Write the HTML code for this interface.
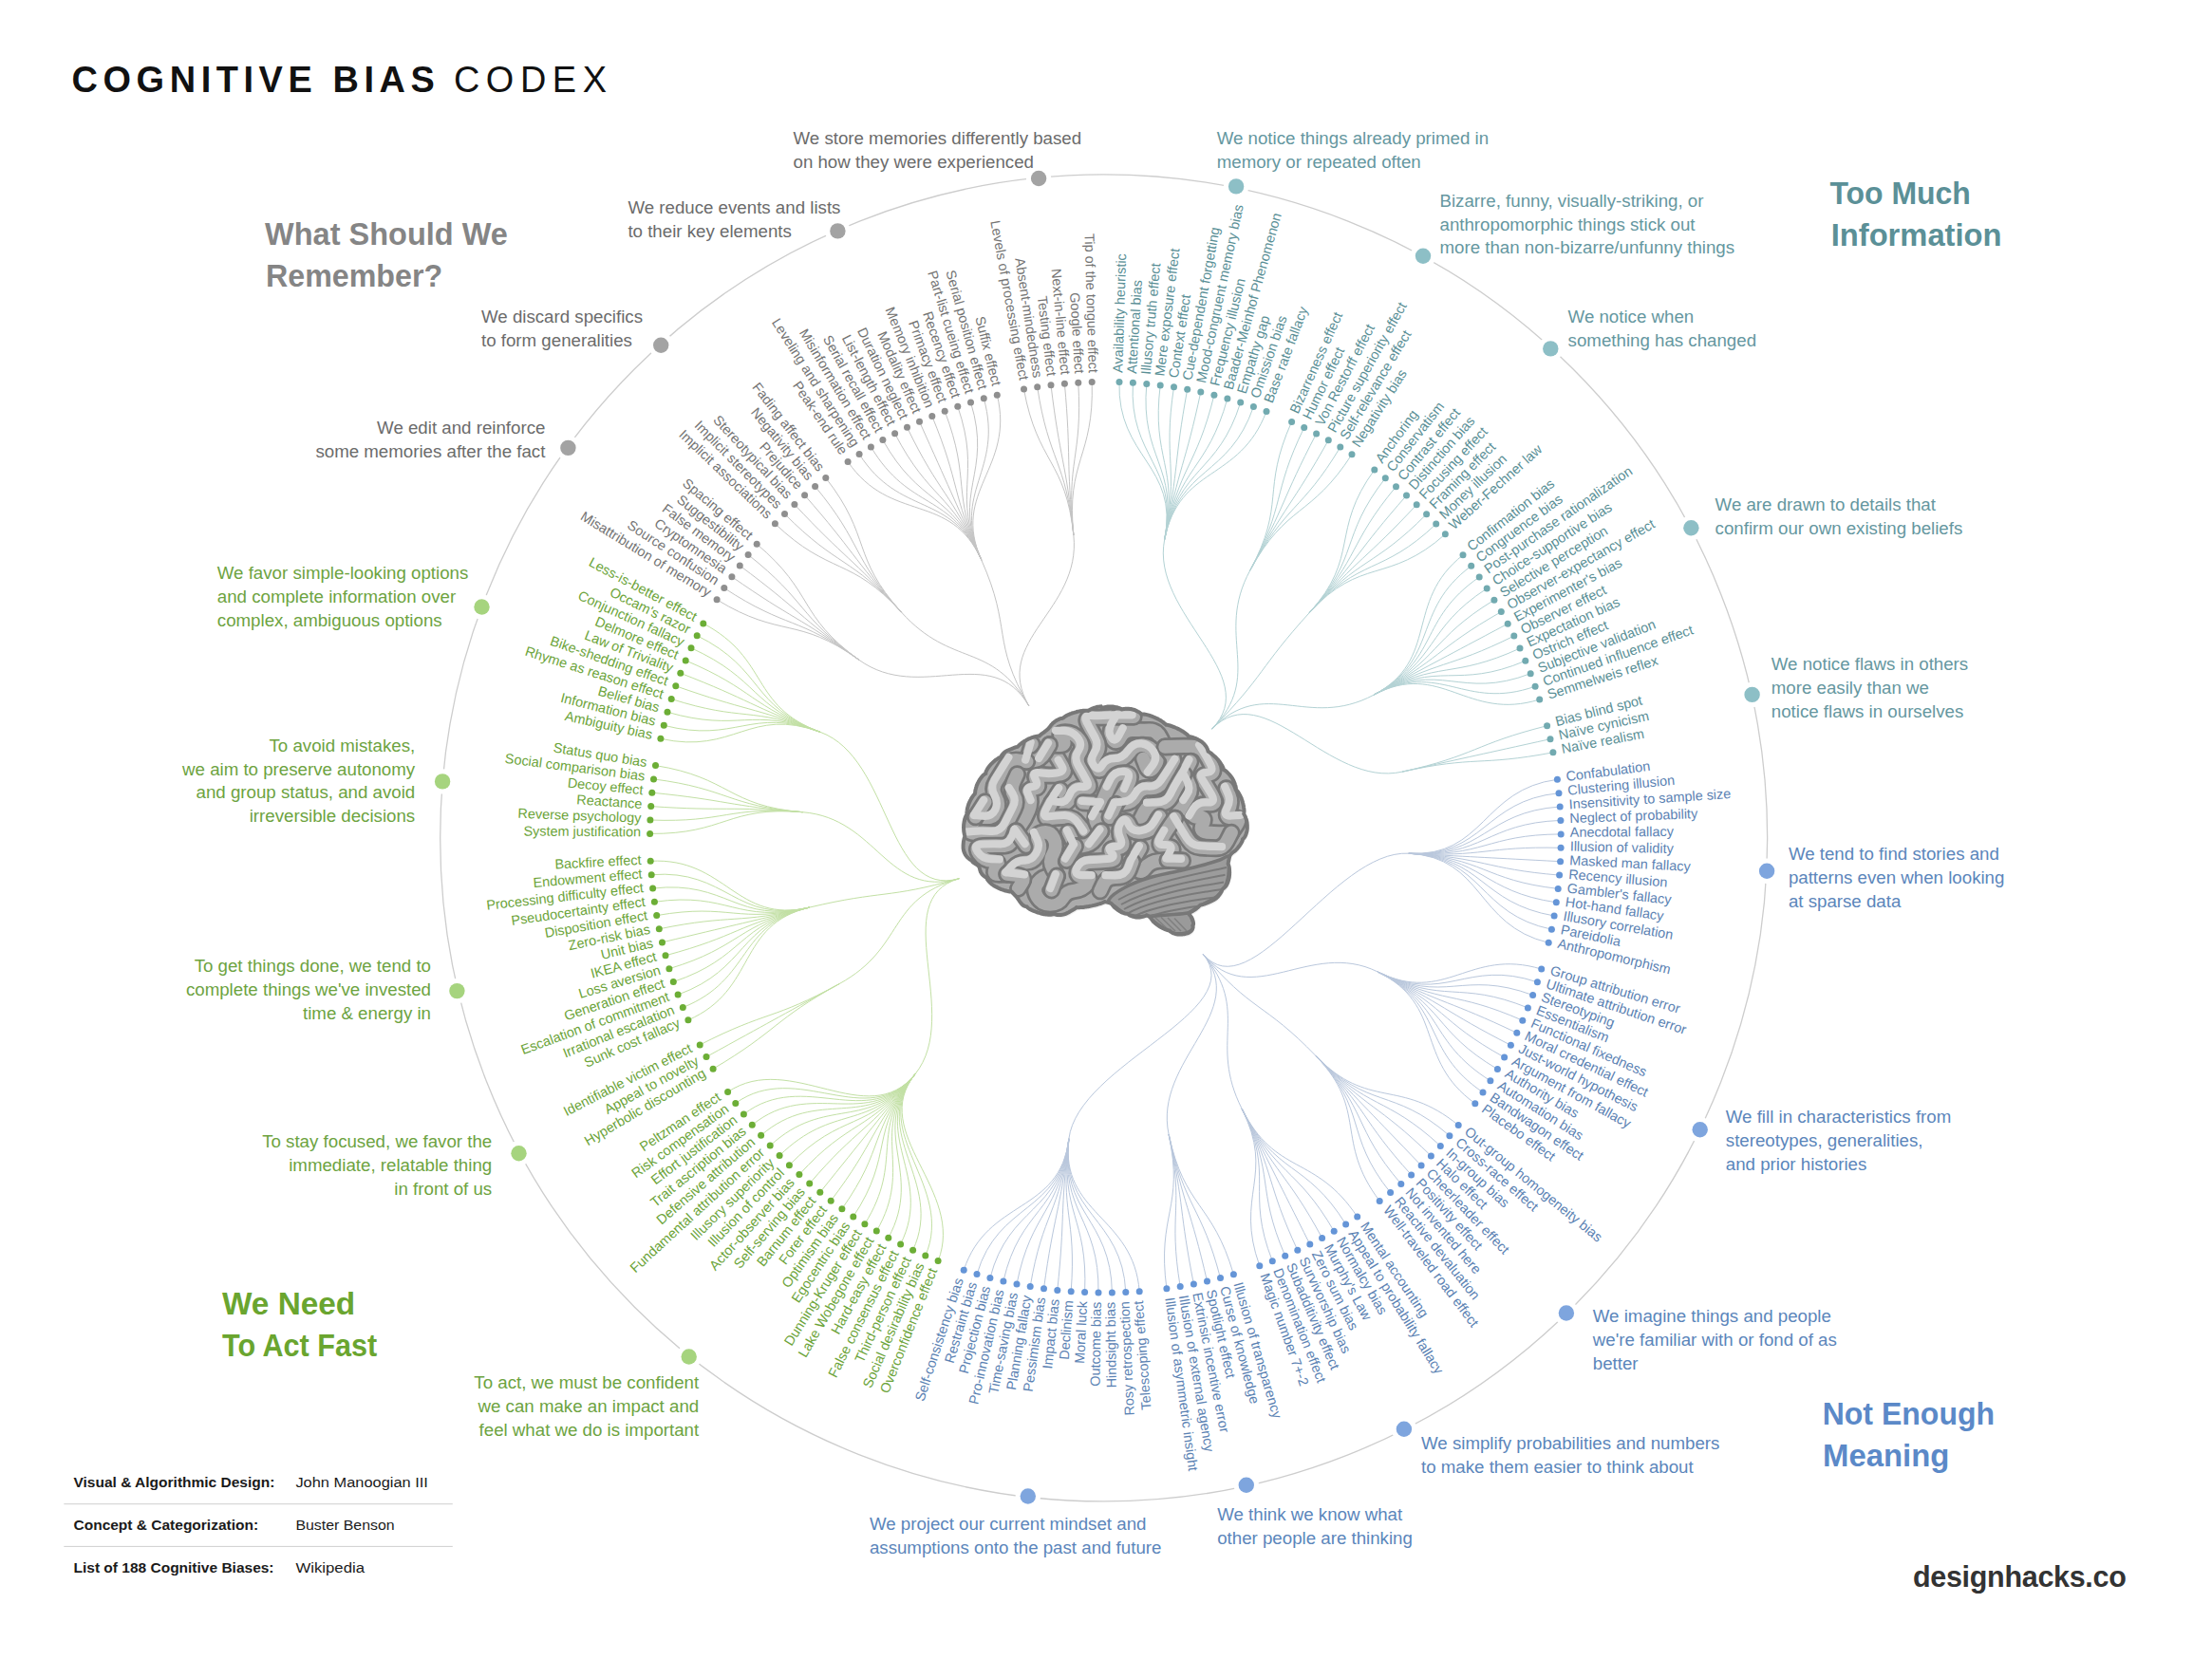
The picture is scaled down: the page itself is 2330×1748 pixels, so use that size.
<!DOCTYPE html><html><head><meta charset="utf-8"><title>Cognitive Bias Codex</title><style>
html,body{margin:0;padding:0;background:#fff;width:2330px;height:1748px;overflow:hidden}svg{display:block}text{font-family:"Liberation Sans",sans-serif}
</style></head><body>
<svg width="2330" height="1748" viewBox="0 0 2330 1748">
<rect width="2330" height="1748" fill="#fff"/>
<circle cx="1162.67" cy="882.95" r="698.98" fill="none" stroke="#cdcdcd" stroke-width="1.3"/>
<path d="M1267.0,1005.0C1318.3,1066.4 1404.1,895.0 1483.9,899.2M1483.9,899.2C1563.8,903.5 1561.1,831.5 1640.4,821.3M1483.9,899.2C1563.8,903.5 1562.4,843.4 1642.0,835.7M1483.9,899.2C1563.8,903.5 1563.4,855.4 1643.2,850.0M1483.9,899.2C1563.8,903.5 1564.1,867.4 1643.9,864.4M1483.9,899.2C1563.8,903.5 1564.3,879.4 1644.2,878.9M1483.9,899.2C1563.8,903.5 1564.2,891.4 1644.1,893.3M1483.9,899.2C1563.8,903.5 1563.8,903.5 1643.6,907.7M1483.9,899.2C1563.8,903.5 1562.9,915.5 1642.6,922.1M1483.9,899.2C1563.8,903.5 1561.8,927.4 1641.2,936.4M1483.9,899.2C1563.8,903.5 1560.2,939.3 1639.3,950.8M1483.9,899.2C1563.8,903.5 1558.3,951.2 1637.1,965.0M1483.9,899.2C1563.8,903.5 1556.1,963.0 1634.4,979.2M1483.9,899.2C1563.8,903.5 1553.5,974.8 1631.2,993.3M1267.0,1005.0C1318.3,1066.4 1379.6,988.6 1451.3,1024.0M1451.3,1024.0C1523.0,1059.4 1547.2,998.0 1623.7,1021.1M1451.3,1024.0C1523.0,1059.4 1543.6,1009.4 1619.4,1034.8M1451.3,1024.0C1523.0,1059.4 1539.6,1020.8 1614.6,1048.5M1451.3,1024.0C1523.0,1059.4 1535.2,1032.0 1609.4,1061.9M1451.3,1024.0C1523.0,1059.4 1530.6,1043.1 1603.8,1075.2M1451.3,1024.0C1523.0,1059.4 1525.6,1054.0 1597.8,1088.3M1451.3,1024.0C1523.0,1059.4 1520.3,1064.8 1591.4,1101.3M1451.3,1024.0C1523.0,1059.4 1514.6,1075.4 1584.6,1114.0M1451.3,1024.0C1523.0,1059.4 1508.6,1085.8 1577.4,1126.5M1451.3,1024.0C1523.0,1059.4 1502.4,1096.1 1569.9,1138.8M1451.3,1024.0C1523.0,1059.4 1495.8,1106.2 1562.0,1150.9M1451.3,1024.0C1523.0,1059.4 1488.9,1116.0 1553.8,1162.7M1267.0,1005.0C1318.3,1066.4 1330.8,1055.2 1386.3,1112.8M1386.3,1112.8C1441.7,1170.4 1474.3,1135.1 1536.2,1185.6M1386.3,1112.8C1441.7,1170.4 1466.5,1144.3 1526.9,1196.7M1386.3,1112.8C1441.7,1170.4 1458.5,1153.3 1517.3,1207.4M1386.3,1112.8C1441.7,1170.4 1450.2,1162.0 1507.4,1217.9M1386.3,1112.8C1441.7,1170.4 1441.7,1170.4 1497.1,1228.0M1386.3,1112.8C1441.7,1170.4 1432.9,1178.6 1486.6,1237.9M1386.3,1112.8C1441.7,1170.4 1423.9,1186.6 1475.8,1247.4M1386.3,1112.8C1441.7,1170.4 1414.6,1194.2 1464.6,1256.6M1386.3,1112.8C1441.7,1170.4 1405.1,1201.6 1453.2,1265.4M1267.0,1005.0C1318.3,1066.4 1272.1,1096.7 1308.1,1168.2M1308.1,1168.2C1343.9,1239.6 1385.5,1215.5 1429.7,1282.1M1308.1,1168.2C1343.9,1239.6 1375.4,1222.0 1417.6,1289.9M1308.1,1168.2C1343.9,1239.6 1365.1,1228.2 1405.2,1297.3M1308.1,1168.2C1343.9,1239.6 1354.6,1234.1 1392.6,1304.4M1308.1,1168.2C1343.9,1239.6 1343.9,1239.6 1379.8,1311.1M1308.1,1168.2C1343.9,1239.6 1333.1,1244.9 1366.8,1317.3M1308.1,1168.2C1343.9,1239.6 1322.1,1249.8 1353.7,1323.2M1308.1,1168.2C1343.9,1239.6 1311.0,1254.3 1340.3,1328.7M1308.1,1168.2C1343.9,1239.6 1299.8,1258.6 1326.8,1333.8M1267.0,1005.0C1318.3,1066.4 1214.4,1117.0 1231.1,1195.2M1231.1,1195.2C1247.8,1273.4 1276.9,1266.0 1299.4,1342.7M1231.1,1195.2C1247.8,1273.4 1265.3,1269.2 1285.5,1346.6M1231.1,1195.2C1247.8,1273.4 1253.6,1272.1 1271.5,1350.0M1231.1,1195.2C1247.8,1273.4 1241.9,1274.6 1257.4,1353.0M1231.1,1195.2C1247.8,1273.4 1230.1,1276.8 1243.2,1355.6M1231.1,1195.2C1247.8,1273.4 1218.2,1278.6 1228.9,1357.8M1267.0,1005.0C1318.3,1066.4 1135.5,1120.5 1125.9,1199.9M1125.9,1199.9C1116.3,1279.3 1194.3,1281.1 1200.2,1360.8M1125.9,1199.9C1116.3,1279.3 1182.3,1281.8 1185.8,1361.6M1125.9,1199.9C1116.3,1279.3 1170.2,1282.1 1171.4,1362.1M1125.9,1199.9C1116.3,1279.3 1158.2,1282.1 1157.0,1362.1M1125.9,1199.9C1116.3,1279.3 1146.2,1281.8 1142.6,1361.6M1125.9,1199.9C1116.3,1279.3 1134.2,1281.0 1128.2,1360.7M1125.9,1199.9C1116.3,1279.3 1122.2,1280.0 1113.8,1359.4M1125.9,1199.9C1116.3,1279.3 1110.3,1278.5 1099.5,1357.7M1125.9,1199.9C1116.3,1279.3 1098.4,1276.7 1085.2,1355.5M1125.9,1199.9C1116.3,1279.3 1086.6,1274.5 1071.0,1352.9M1125.9,1199.9C1116.3,1279.3 1074.8,1272.0 1056.9,1349.9M1125.9,1199.9C1116.3,1279.3 1063.1,1269.2 1042.9,1346.5M1125.9,1199.9C1116.3,1279.3 1051.6,1265.9 1029.0,1342.6M1125.9,1199.9C1116.3,1279.3 1040.1,1262.4 1015.2,1338.3" fill="none" stroke="#b9c7dc" stroke-width="1"/>
<path d="M1010.4,925.7C933.4,947.4 1014.1,1069.4 964.0,1131.7M964.0,1131.7C913.9,1194.0 1017.5,1254.2 988.1,1328.6M964.0,1131.7C913.9,1194.0 1006.3,1249.6 974.8,1323.1M964.0,1131.7C913.9,1194.0 995.4,1244.7 961.6,1317.2M964.0,1131.7C913.9,1194.0 984.6,1239.5 948.6,1310.9M964.0,1131.7C913.9,1194.0 973.9,1233.9 935.8,1304.2M964.0,1131.7C913.9,1194.0 963.4,1228.0 923.3,1297.1M964.0,1131.7C913.9,1194.0 953.1,1221.8 910.9,1289.7M964.0,1131.7C913.9,1194.0 943.0,1215.3 898.8,1281.9M964.0,1131.7C913.9,1194.0 933.1,1208.5 886.9,1273.7M964.0,1131.7C913.9,1194.0 923.4,1201.4 875.2,1265.2M964.0,1131.7C913.9,1194.0 913.9,1194.0 863.8,1256.3M964.0,1131.7C913.9,1194.0 904.7,1186.4 852.7,1247.1M964.0,1131.7C913.9,1194.0 895.6,1178.4 841.9,1237.6M964.0,1131.7C913.9,1194.0 886.8,1170.2 831.4,1227.7M964.0,1131.7C913.9,1194.0 878.3,1161.7 821.1,1217.6M964.0,1131.7C913.9,1194.0 870.0,1153.0 811.2,1207.1M964.0,1131.7C913.9,1194.0 862.0,1144.0 801.6,1196.3M964.0,1131.7C913.9,1194.0 854.3,1134.8 792.3,1185.3M964.0,1131.7C913.9,1194.0 846.9,1125.4 783.4,1174.0M964.0,1131.7C913.9,1194.0 839.7,1115.7 774.8,1162.4M964.0,1131.7C913.9,1194.0 832.8,1105.9 766.6,1150.6M1010.4,925.7C933.4,947.4 954.1,998.0 884.1,1036.6M884.1,1036.6C814.0,1075.1 820.0,1085.5 751.1,1126.2M884.1,1036.6C814.0,1075.1 814.0,1075.1 744.0,1113.6M884.1,1036.6C814.0,1075.1 808.4,1064.5 737.2,1100.9M1010.4,925.7C933.4,947.4 930.9,937.6 853.0,956.0M853.0,956.0C775.2,974.4 798.1,1042.8 724.9,1074.8M853.0,956.0C775.2,974.4 793.4,1031.7 719.3,1061.5M853.0,956.0C775.2,974.4 789.1,1020.5 714.1,1048.1M853.0,956.0C775.2,974.4 785.1,1009.1 709.3,1034.5M853.0,956.0C775.2,974.4 781.5,997.6 704.9,1020.7M853.0,956.0C775.2,974.4 778.2,986.1 701.0,1006.8M853.0,956.0C775.2,974.4 775.2,974.4 697.5,992.9M853.0,956.0C775.2,974.4 772.6,962.7 694.3,978.8M853.0,956.0C775.2,974.4 770.4,950.9 691.7,964.6M853.0,956.0C775.2,974.4 768.5,939.0 689.4,950.3M853.0,956.0C775.2,974.4 767.0,927.1 687.6,936.0M853.0,956.0C775.2,974.4 765.8,915.1 686.2,921.7M853.0,956.0C775.2,974.4 765.0,903.1 685.2,907.3M1010.4,925.7C933.4,947.4 925.2,862.3 845.5,855.7M845.5,855.7C765.9,849.1 764.5,879.1 684.6,878.4M845.5,855.7C765.9,849.1 764.8,867.1 684.9,864.0M845.5,855.7C765.9,849.1 765.4,855.1 685.7,849.6M845.5,855.7C765.9,849.1 766.4,843.1 686.8,835.2M845.5,855.7C765.9,849.1 767.8,831.1 688.5,820.9M845.5,855.7C765.9,849.1 769.5,819.2 690.5,806.6M1010.4,925.7C933.4,947.4 939.3,799.1 864.2,771.4M864.2,771.4C789.2,743.7 774.0,795.6 695.9,778.3M864.2,771.4C789.2,743.7 776.7,783.9 699.3,764.3M864.2,771.4C789.2,743.7 779.9,772.3 703.0,750.3M864.2,771.4C789.2,743.7 783.4,760.8 707.2,736.5M864.2,771.4C789.2,743.7 787.2,749.4 711.8,722.8M864.2,771.4C789.2,743.7 791.3,738.1 716.8,709.3M864.2,771.4C789.2,743.7 795.8,727.0 722.2,695.9M864.2,771.4C789.2,743.7 800.7,716.0 728.0,682.7M864.2,771.4C789.2,743.7 805.8,705.1 734.2,669.7M864.2,771.4C789.2,743.7 811.3,694.4 740.8,656.9" fill="none" stroke="#c2e0a4" stroke-width="1"/>
<path d="M1083.9,744.0C1043.7,674.8 969.7,742.0 904.7,695.2M904.7,695.2C839.9,648.5 823.3,673.5 755.1,631.8M904.7,695.2C839.9,648.5 829.7,663.4 762.8,619.6M904.7,695.2C839.9,648.5 836.4,653.4 770.9,607.7M904.7,695.2C839.9,648.5 843.4,643.7 779.3,596.0M904.7,695.2C839.9,648.5 850.8,634.1 788.1,584.5M904.7,695.2C839.9,648.5 858.4,624.8 797.2,573.3M1083.9,744.0C1043.7,674.8 1003.3,704.4 949.5,645.1M949.5,645.1C895.9,585.9 874.4,606.9 816.4,551.8M949.5,645.1C895.9,585.9 882.8,598.3 826.5,541.5M949.5,645.1C895.9,585.9 891.5,589.9 836.9,531.5M949.5,645.1C895.9,585.9 900.4,581.9 847.6,521.8M949.5,645.1C895.9,585.9 909.5,574.1 858.6,512.5M949.5,645.1C895.9,585.9 918.9,566.6 869.8,503.5M1083.9,744.0C1043.7,674.8 1066.4,663.2 1033.8,590.1M1033.8,590.1C1001.2,517.2 938.3,552.4 893.1,486.4M1033.8,590.1C1001.2,517.2 948.3,545.7 905.1,478.5M1033.8,590.1C1001.2,517.2 958.5,539.4 917.4,470.9M1033.8,590.1C1001.2,517.2 968.9,533.3 929.9,463.6M1033.8,590.1C1001.2,517.2 979.5,527.6 942.6,456.8M1033.8,590.1C1001.2,517.2 990.3,522.2 955.5,450.3M1033.8,590.1C1001.2,517.2 1001.2,517.2 968.5,444.2M1033.8,590.1C1001.2,517.2 1012.2,512.4 981.8,438.5M1033.8,590.1C1001.2,517.2 1023.4,508.0 995.2,433.2M1033.8,590.1C1001.2,517.2 1034.7,503.9 1008.8,428.3M1033.8,590.1C1001.2,517.2 1046.1,500.2 1022.5,423.9M1033.8,590.1C1001.2,517.2 1057.7,496.8 1036.3,419.8M1033.8,590.1C1001.2,517.2 1069.3,493.8 1050.3,416.2M1083.9,744.0C1043.7,674.8 1139.3,643.6 1130.9,564.0M1130.9,564.0C1122.6,484.5 1092.8,488.8 1078.5,410.1M1130.9,564.0C1122.6,484.5 1104.7,486.8 1092.7,407.8M1130.9,564.0C1122.6,484.5 1116.6,485.2 1107.0,405.8M1130.9,564.0C1122.6,484.5 1128.6,483.9 1121.4,404.3M1130.9,564.0C1122.6,484.5 1140.5,483.0 1135.8,403.3M1130.9,564.0C1122.6,484.5 1152.6,482.5 1150.2,402.6" fill="none" stroke="#c4c4c4" stroke-width="1"/>
<path d="M1276.5,768.1C1332.6,711.1 1211.1,646.8 1226.7,568.4M1226.7,568.4C1242.2,490.0 1176.6,482.5 1179.0,402.6M1226.7,568.4C1242.2,490.0 1188.6,483.1 1193.4,403.3M1226.7,568.4C1242.2,490.0 1200.6,484.0 1207.8,404.4M1226.7,568.4C1242.2,490.0 1212.5,485.2 1222.2,405.9M1226.7,568.4C1242.2,490.0 1224.5,486.9 1236.5,407.8M1226.7,568.4C1242.2,490.0 1236.3,488.8 1250.7,410.2M1226.7,568.4C1242.2,490.0 1248.1,491.2 1264.8,413.0M1226.7,568.4C1242.2,490.0 1259.8,493.9 1278.9,416.3M1226.7,568.4C1242.2,490.0 1271.5,496.9 1292.9,419.9M1226.7,568.4C1242.2,490.0 1283.0,500.3 1306.7,424.0M1226.7,568.4C1242.2,490.0 1294.4,504.1 1320.4,428.5M1226.7,568.4C1242.2,490.0 1305.7,508.1 1334.0,433.4M1276.5,768.1C1332.6,711.1 1278.7,671.2 1316.8,600.9M1316.8,600.9C1354.9,530.6 1328.0,517.3 1360.6,444.4M1316.8,600.9C1354.9,530.6 1338.9,522.4 1373.7,450.5M1316.8,600.9C1354.9,530.6 1349.6,527.8 1386.6,456.9M1316.8,600.9C1354.9,530.6 1360.2,533.5 1399.3,463.8M1316.8,600.9C1354.9,530.6 1370.6,539.6 1411.8,471.1M1316.8,600.9C1354.9,530.6 1380.8,545.9 1424.0,478.7M1276.5,768.1C1332.6,711.1 1325.7,704.5 1379.5,645.3M1379.5,645.3C1433.2,586.1 1400.6,559.5 1447.8,495.0M1379.5,645.3C1433.2,586.1 1410.2,566.8 1459.3,503.7M1379.5,645.3C1433.2,586.1 1419.5,574.3 1470.5,512.7M1379.5,645.3C1433.2,586.1 1428.7,582.1 1481.5,522.1M1379.5,645.3C1433.2,586.1 1437.6,590.2 1492.2,531.8M1379.5,645.3C1433.2,586.1 1446.3,598.5 1502.6,541.8M1379.5,645.3C1433.2,586.1 1454.7,607.1 1512.7,552.1M1379.5,645.3C1433.2,586.1 1462.8,616.0 1522.4,562.8M1276.5,768.1C1332.6,711.1 1376.4,769.7 1447.0,732.2M1447.0,732.2C1517.6,694.7 1478.3,634.4 1541.0,584.8M1447.0,732.2C1517.6,694.7 1485.6,643.9 1549.7,596.3M1447.0,732.2C1517.6,694.7 1492.6,653.7 1558.2,608.0M1447.0,732.2C1517.6,694.7 1499.3,663.7 1566.2,620.0M1447.0,732.2C1517.6,694.7 1505.7,673.8 1573.9,632.2M1447.0,732.2C1517.6,694.7 1511.8,684.2 1581.3,644.6M1447.0,732.2C1517.6,694.7 1517.6,694.7 1588.2,657.2M1447.0,732.2C1517.6,694.7 1523.1,705.4 1594.8,670.1M1447.0,732.2C1517.6,694.7 1528.3,716.3 1601.0,683.1M1447.0,732.2C1517.6,694.7 1533.1,727.3 1606.8,696.3M1447.0,732.2C1517.6,694.7 1537.6,738.4 1612.2,709.7M1447.0,732.2C1517.6,694.7 1541.7,749.7 1617.1,723.2M1447.0,732.2C1517.6,694.7 1545.5,761.1 1621.7,736.9M1276.5,768.1C1332.6,711.1 1398.7,830.5 1476.9,813.2M1476.9,813.2C1554.9,795.9 1552.1,784.2 1629.6,764.7M1476.9,813.2C1554.9,795.9 1554.9,795.9 1633.0,778.7M1476.9,813.2C1554.9,795.9 1557.3,807.7 1635.9,792.8" fill="none" stroke="#b3d2d4" stroke-width="1"/>
<g fill="#6595d7"><circle cx="1640.4" cy="821.3" r="3.5"/><circle cx="1642.0" cy="835.7" r="3.5"/><circle cx="1643.2" cy="850.0" r="3.5"/><circle cx="1643.9" cy="864.4" r="3.5"/><circle cx="1644.2" cy="878.9" r="3.5"/><circle cx="1644.1" cy="893.3" r="3.5"/><circle cx="1643.6" cy="907.7" r="3.5"/><circle cx="1642.6" cy="922.1" r="3.5"/><circle cx="1641.2" cy="936.4" r="3.5"/><circle cx="1639.3" cy="950.8" r="3.5"/><circle cx="1637.1" cy="965.0" r="3.5"/><circle cx="1634.4" cy="979.2" r="3.5"/><circle cx="1631.2" cy="993.3" r="3.5"/></g>
<g fill="#5b82b3" font-size="14.45"><text transform="translate(1649.9,820.1) rotate(-7.30)" y="3.0">Confabulation</text><text transform="translate(1651.5,834.7) rotate(-5.57)" y="3.0">Clustering illusion</text><text transform="translate(1652.8,849.4) rotate(-3.85)" y="3.0">Insensitivity to sample size</text><text transform="translate(1653.5,864.1) rotate(-2.13)" y="3.0">Neglect of probability</text><text transform="translate(1653.8,878.8) rotate(-0.41)" y="3.0">Anecdotal fallacy</text><text transform="translate(1653.7,893.5) rotate(1.32)" y="3.0">Illusion of validity</text><text transform="translate(1653.2,908.2) rotate(3.04)" y="3.0">Masked man fallacy</text><text transform="translate(1652.2,922.9) rotate(4.76)" y="3.0">Recency illusion</text><text transform="translate(1650.7,937.5) rotate(6.48)" y="3.0">Gambler's fallacy</text><text transform="translate(1648.8,952.1) rotate(8.21)" y="3.0">Hot-hand fallacy</text><text transform="translate(1646.5,966.7) rotate(9.93)" y="3.0">Illusory correlation</text><text transform="translate(1643.8,981.1) rotate(11.65)" y="3.0">Pareidolia</text><text transform="translate(1640.6,995.5) rotate(13.37)" y="3.0">Anthropomorphism</text></g>
<g fill="#6595d7"><circle cx="1623.7" cy="1021.1" r="3.5"/><circle cx="1619.4" cy="1034.8" r="3.5"/><circle cx="1614.6" cy="1048.5" r="3.5"/><circle cx="1609.4" cy="1061.9" r="3.5"/><circle cx="1603.8" cy="1075.2" r="3.5"/><circle cx="1597.8" cy="1088.3" r="3.5"/><circle cx="1591.4" cy="1101.3" r="3.5"/><circle cx="1584.6" cy="1114.0" r="3.5"/><circle cx="1577.4" cy="1126.5" r="3.5"/><circle cx="1569.9" cy="1138.8" r="3.5"/><circle cx="1562.0" cy="1150.9" r="3.5"/><circle cx="1553.8" cy="1162.7" r="3.5"/></g>
<g fill="#5b82b3" font-size="14.45"><text transform="translate(1632.9,1023.9) rotate(16.82)" y="3.0">Group attribution error</text><text transform="translate(1628.5,1037.9) rotate(18.54)" y="3.0">Ultimate attribution error</text><text transform="translate(1623.6,1051.8) rotate(20.26)" y="3.0">Stereotyping</text><text transform="translate(1618.3,1065.5) rotate(21.99)" y="3.0">Essentialism</text><text transform="translate(1612.6,1079.1) rotate(23.71)" y="3.0">Functional fixedness</text><text transform="translate(1606.4,1092.4) rotate(25.43)" y="3.0">Moral credential effect</text><text transform="translate(1599.9,1105.6) rotate(27.15)" y="3.0">Just-world hypothesis</text><text transform="translate(1593.0,1118.6) rotate(28.88)" y="3.0">Argument from fallacy</text><text transform="translate(1585.7,1131.4) rotate(30.60)" y="3.0">Authority bias</text><text transform="translate(1578.0,1144.0) rotate(32.32)" y="3.0">Automation bias</text><text transform="translate(1570.0,1156.3) rotate(34.04)" y="3.0">Bandwagon effect</text><text transform="translate(1561.6,1168.3) rotate(35.77)" y="3.0">Placebo effect</text></g>
<g fill="#6595d7"><circle cx="1536.2" cy="1185.6" r="3.5"/><circle cx="1526.9" cy="1196.7" r="3.5"/><circle cx="1517.3" cy="1207.4" r="3.5"/><circle cx="1507.4" cy="1217.9" r="3.5"/><circle cx="1497.1" cy="1228.0" r="3.5"/><circle cx="1486.6" cy="1237.9" r="3.5"/><circle cx="1475.8" cy="1247.4" r="3.5"/><circle cx="1464.6" cy="1256.6" r="3.5"/><circle cx="1453.2" cy="1265.4" r="3.5"/></g>
<g fill="#5b82b3" font-size="14.45"><text transform="translate(1543.6,1191.7) rotate(39.21)" y="3.0">Out-group homogeneity bias</text><text transform="translate(1534.2,1202.9) rotate(40.93)" y="3.0">Cross-race effect</text><text transform="translate(1524.4,1213.9) rotate(42.66)" y="3.0">In-group bias</text><text transform="translate(1514.2,1224.6) rotate(44.38)" y="3.0">Halo effect</text><text transform="translate(1503.8,1234.9) rotate(46.10)" y="3.0">Cheerleader effect</text><text transform="translate(1493.0,1245.0) rotate(47.82)" y="3.0">Positivity effect</text><text transform="translate(1482.0,1254.7) rotate(49.55)" y="3.0">Not invented here</text><text transform="translate(1470.6,1264.1) rotate(51.27)" y="3.0">Reactive devaluation</text><text transform="translate(1459.0,1273.1) rotate(52.99)" y="3.0">Well-traveled road effect</text></g>
<g fill="#6595d7"><circle cx="1429.7" cy="1282.1" r="3.5"/><circle cx="1417.6" cy="1289.9" r="3.5"/><circle cx="1405.2" cy="1297.3" r="3.5"/><circle cx="1392.6" cy="1304.4" r="3.5"/><circle cx="1379.8" cy="1311.1" r="3.5"/><circle cx="1366.8" cy="1317.3" r="3.5"/><circle cx="1353.7" cy="1323.2" r="3.5"/><circle cx="1340.3" cy="1328.7" r="3.5"/><circle cx="1326.8" cy="1333.8" r="3.5"/></g>
<g fill="#5b82b3" font-size="14.45"><text transform="translate(1435.0,1290.1) rotate(56.44)" y="3.0">Mental accounting</text><text transform="translate(1422.6,1298.1) rotate(58.16)" y="3.0">Appeal to probability fallacy</text><text transform="translate(1410.0,1305.6) rotate(59.88)" y="3.0">Normalcy bias</text><text transform="translate(1397.2,1312.8) rotate(61.60)" y="3.0">Murphy's Law</text><text transform="translate(1384.1,1319.6) rotate(63.33)" y="3.0">Zero sum bias</text><text transform="translate(1370.9,1326.0) rotate(65.05)" y="3.0">Survivorship bias</text><text transform="translate(1357.4,1332.0) rotate(66.77)" y="3.0">Subadditivity effect</text><text transform="translate(1343.8,1337.6) rotate(68.49)" y="3.0">Denomination effect</text><text transform="translate(1330.1,1342.8) rotate(70.22)" y="3.0">Magic number 7+-2</text></g>
<g fill="#6595d7"><circle cx="1299.4" cy="1342.7" r="3.5"/><circle cx="1285.5" cy="1346.6" r="3.5"/><circle cx="1271.5" cy="1350.0" r="3.5"/><circle cx="1257.4" cy="1353.0" r="3.5"/><circle cx="1243.2" cy="1355.6" r="3.5"/><circle cx="1228.9" cy="1357.8" r="3.5"/></g>
<g fill="#5b82b3" font-size="14.45"><text transform="translate(1302.1,1352.0) rotate(73.66)" y="3.0">Illusion of transparency</text><text transform="translate(1287.9,1355.9) rotate(75.38)" y="3.0">Curse of knowledge</text><text transform="translate(1273.6,1359.4) rotate(77.11)" y="3.0">Spotlight effect</text><text transform="translate(1259.2,1362.4) rotate(78.83)" y="3.0">Extrinsic incentive error</text><text transform="translate(1244.8,1365.1) rotate(80.55)" y="3.0">Illusion of external agency</text><text transform="translate(1230.2,1367.3) rotate(82.27)" y="3.0">Illusion of asymmetric insight</text></g>
<g fill="#6595d7"><circle cx="1200.2" cy="1360.8" r="3.5"/><circle cx="1185.8" cy="1361.6" r="3.5"/><circle cx="1171.4" cy="1362.1" r="3.5"/><circle cx="1157.0" cy="1362.1" r="3.5"/><circle cx="1142.6" cy="1361.6" r="3.5"/><circle cx="1128.2" cy="1360.7" r="3.5"/><circle cx="1113.8" cy="1359.4" r="3.5"/><circle cx="1099.5" cy="1357.7" r="3.5"/><circle cx="1085.2" cy="1355.5" r="3.5"/><circle cx="1071.0" cy="1352.9" r="3.5"/><circle cx="1056.9" cy="1349.9" r="3.5"/><circle cx="1042.9" cy="1346.5" r="3.5"/><circle cx="1029.0" cy="1342.6" r="3.5"/><circle cx="1015.2" cy="1338.3" r="3.5"/></g>
<g fill="#5b82b3" font-size="14.45"><text transform="translate(1200.9,1370.4) rotate(265.72)" y="3.0" text-anchor="end">Telescoping effect</text><text transform="translate(1186.3,1371.2) rotate(267.44)" y="3.0" text-anchor="end">Rosy retrospection</text><text transform="translate(1171.5,1371.7) rotate(269.16)" y="3.0" text-anchor="end">Hindsight bias</text><text transform="translate(1156.8,1371.7) rotate(270.89)" y="3.0" text-anchor="end">Outcome bias</text><text transform="translate(1142.1,1371.2) rotate(272.61)" y="3.0" text-anchor="end">Moral luck</text><text transform="translate(1127.4,1370.3) rotate(274.33)" y="3.0" text-anchor="end">Declinism</text><text transform="translate(1112.8,1369.0) rotate(276.05)" y="3.0" text-anchor="end">Impact bias</text><text transform="translate(1098.2,1367.2) rotate(277.78)" y="3.0" text-anchor="end">Pessimism bias</text><text transform="translate(1083.6,1365.0) rotate(279.50)" y="3.0" text-anchor="end">Planning fallacy</text><text transform="translate(1069.2,1362.4) rotate(281.22)" y="3.0" text-anchor="end">Time-saving bias</text><text transform="translate(1054.8,1359.3) rotate(282.94)" y="3.0" text-anchor="end">Pro-innovation bias</text><text transform="translate(1040.5,1355.8) rotate(284.67)" y="3.0" text-anchor="end">Projection bias</text><text transform="translate(1026.3,1351.8) rotate(286.39)" y="3.0" text-anchor="end">Restraint bias</text><text transform="translate(1012.2,1347.5) rotate(288.11)" y="3.0" text-anchor="end">Self-consistency bias</text></g>
<g fill="#6cae36"><circle cx="988.1" cy="1328.6" r="3.5"/><circle cx="974.8" cy="1323.1" r="3.5"/><circle cx="961.6" cy="1317.2" r="3.5"/><circle cx="948.6" cy="1310.9" r="3.5"/><circle cx="935.8" cy="1304.2" r="3.5"/><circle cx="923.3" cy="1297.1" r="3.5"/><circle cx="910.9" cy="1289.7" r="3.5"/><circle cx="898.8" cy="1281.9" r="3.5"/><circle cx="886.9" cy="1273.7" r="3.5"/><circle cx="875.2" cy="1265.2" r="3.5"/><circle cx="863.8" cy="1256.3" r="3.5"/><circle cx="852.7" cy="1247.1" r="3.5"/><circle cx="841.9" cy="1237.6" r="3.5"/><circle cx="831.4" cy="1227.7" r="3.5"/><circle cx="821.1" cy="1217.6" r="3.5"/><circle cx="811.2" cy="1207.1" r="3.5"/><circle cx="801.6" cy="1196.3" r="3.5"/><circle cx="792.3" cy="1185.3" r="3.5"/><circle cx="783.4" cy="1174.0" r="3.5"/><circle cx="774.8" cy="1162.4" r="3.5"/><circle cx="766.6" cy="1150.6" r="3.5"/></g>
<g fill="#6ca43a" font-size="14.45"><text transform="translate(984.6,1337.5) rotate(291.56)" y="3.0" text-anchor="end">Overconfidence effect</text><text transform="translate(971.0,1331.9) rotate(293.28)" y="3.0" text-anchor="end">Social desirability bias</text><text transform="translate(957.5,1325.9) rotate(295.00)" y="3.0" text-anchor="end">Third-person effect</text><text transform="translate(944.3,1319.4) rotate(296.72)" y="3.0" text-anchor="end">False consensus effect</text><text transform="translate(931.3,1312.6) rotate(298.45)" y="3.0" text-anchor="end">Hard-easy effect</text><text transform="translate(918.4,1305.4) rotate(300.17)" y="3.0" text-anchor="end">Lake Wobegone effect</text><text transform="translate(905.8,1297.8) rotate(301.89)" y="3.0" text-anchor="end">Dunning-Kruger effect</text><text transform="translate(893.4,1289.9) rotate(303.61)" y="3.0" text-anchor="end">Egocentric bias</text><text transform="translate(881.3,1281.6) rotate(305.34)" y="3.0" text-anchor="end">Optimism bias</text><text transform="translate(869.4,1272.9) rotate(307.06)" y="3.0" text-anchor="end">Forer effect</text><text transform="translate(857.8,1263.8) rotate(308.78)" y="3.0" text-anchor="end">Barnum effect</text><text transform="translate(846.5,1254.4) rotate(310.50)" y="3.0" text-anchor="end">Self-serving bias</text><text transform="translate(835.5,1244.7) rotate(312.23)" y="3.0" text-anchor="end">Actor-observer bias</text><text transform="translate(824.7,1234.7) rotate(313.95)" y="3.0" text-anchor="end">Illusion of control</text><text transform="translate(814.3,1224.3) rotate(315.67)" y="3.0" text-anchor="end">Illusory superiority</text><text transform="translate(804.2,1213.6) rotate(317.39)" y="3.0" text-anchor="end">Fundamental attribution error</text><text transform="translate(794.4,1202.6) rotate(319.12)" y="3.0" text-anchor="end">Defensive attribution</text><text transform="translate(784.9,1191.4) rotate(320.84)" y="3.0" text-anchor="end">Trait ascription bias</text><text transform="translate(775.8,1179.8) rotate(322.56)" y="3.0" text-anchor="end">Effort justification</text><text transform="translate(767.0,1168.0) rotate(324.28)" y="3.0" text-anchor="end">Risk compensation</text><text transform="translate(758.6,1155.9) rotate(326.01)" y="3.0" text-anchor="end">Peltzman effect</text></g>
<g fill="#6cae36"><circle cx="751.1" cy="1126.2" r="3.5"/><circle cx="744.0" cy="1113.6" r="3.5"/><circle cx="737.2" cy="1100.9" r="3.5"/></g>
<g fill="#6ca43a" font-size="14.45"><text transform="translate(742.9,1131.0) rotate(329.45)" y="3.0" text-anchor="end">Hyperbolic discounting</text><text transform="translate(735.6,1118.3) rotate(331.17)" y="3.0" text-anchor="end">Appeal to novelty</text><text transform="translate(728.7,1105.3) rotate(332.90)" y="3.0" text-anchor="end">Identifiable victim effect</text></g>
<g fill="#6cae36"><circle cx="724.9" cy="1074.8" r="3.5"/><circle cx="719.3" cy="1061.5" r="3.5"/><circle cx="714.1" cy="1048.1" r="3.5"/><circle cx="709.3" cy="1034.5" r="3.5"/><circle cx="704.9" cy="1020.7" r="3.5"/><circle cx="701.0" cy="1006.8" r="3.5"/><circle cx="697.5" cy="992.9" r="3.5"/><circle cx="694.3" cy="978.8" r="3.5"/><circle cx="691.7" cy="964.6" r="3.5"/><circle cx="689.4" cy="950.3" r="3.5"/><circle cx="687.6" cy="936.0" r="3.5"/><circle cx="686.2" cy="921.7" r="3.5"/><circle cx="685.2" cy="907.3" r="3.5"/></g>
<g fill="#6ca43a" font-size="14.45"><text transform="translate(716.1,1078.7) rotate(336.34)" y="3.0" text-anchor="end">Sunk cost fallacy</text><text transform="translate(710.4,1065.1) rotate(338.06)" y="3.0" text-anchor="end">Irrational escalation</text><text transform="translate(705.1,1051.4) rotate(339.79)" y="3.0" text-anchor="end">Escalation of commitment</text><text transform="translate(700.2,1037.5) rotate(341.51)" y="3.0" text-anchor="end">Generation effect</text><text transform="translate(695.8,1023.5) rotate(343.23)" y="3.0" text-anchor="end">Loss aversion</text><text transform="translate(691.7,1009.3) rotate(344.95)" y="3.0" text-anchor="end">IKEA effect</text><text transform="translate(688.1,995.1) rotate(346.68)" y="3.0" text-anchor="end">Unit bias</text><text transform="translate(684.9,980.7) rotate(348.40)" y="3.0" text-anchor="end">Zero-risk bias</text><text transform="translate(682.2,966.2) rotate(350.12)" y="3.0" text-anchor="end">Disposition effect</text><text transform="translate(679.9,951.7) rotate(351.84)" y="3.0" text-anchor="end">Pseudocertainty effect</text><text transform="translate(678.0,937.1) rotate(353.57)" y="3.0" text-anchor="end">Processing difficulty effect</text><text transform="translate(676.6,922.5) rotate(355.29)" y="3.0" text-anchor="end">Endowment effect</text><text transform="translate(675.6,907.8) rotate(357.01)" y="3.0" text-anchor="end">Backfire effect</text></g>
<g fill="#6cae36"><circle cx="684.6" cy="878.4" r="3.5"/><circle cx="684.9" cy="864.0" r="3.5"/><circle cx="685.7" cy="849.6" r="3.5"/><circle cx="686.8" cy="835.2" r="3.5"/><circle cx="688.5" cy="820.9" r="3.5"/><circle cx="690.5" cy="806.6" r="3.5"/></g>
<g fill="#6ca43a" font-size="14.45"><text transform="translate(675.0,878.4) rotate(360.46)" y="3.0" text-anchor="end">System justification</text><text transform="translate(675.3,863.7) rotate(362.18)" y="3.0" text-anchor="end">Reverse psychology</text><text transform="translate(676.1,849.0) rotate(363.90)" y="3.0" text-anchor="end">Reactance</text><text transform="translate(677.3,834.3) rotate(365.62)" y="3.0" text-anchor="end">Decoy effect</text><text transform="translate(679.0,819.7) rotate(367.35)" y="3.0" text-anchor="end">Social comparison bias</text><text transform="translate(681.1,805.1) rotate(369.07)" y="3.0" text-anchor="end">Status quo bias</text></g>
<g fill="#6cae36"><circle cx="695.9" cy="778.3" r="3.5"/><circle cx="699.3" cy="764.3" r="3.5"/><circle cx="703.0" cy="750.3" r="3.5"/><circle cx="707.2" cy="736.5" r="3.5"/><circle cx="711.8" cy="722.8" r="3.5"/><circle cx="716.8" cy="709.3" r="3.5"/><circle cx="722.2" cy="695.9" r="3.5"/><circle cx="728.0" cy="682.7" r="3.5"/><circle cx="734.2" cy="669.7" r="3.5"/><circle cx="740.8" cy="656.9" r="3.5"/></g>
<g fill="#6ca43a" font-size="14.45"><text transform="translate(686.6,776.2) rotate(372.51)" y="3.0" text-anchor="end">Ambiguity bias</text><text transform="translate(690.0,761.9) rotate(374.24)" y="3.0" text-anchor="end">Information bias</text><text transform="translate(693.8,747.7) rotate(375.96)" y="3.0" text-anchor="end">Belief bias</text><text transform="translate(698.1,733.6) rotate(377.68)" y="3.0" text-anchor="end">Rhyme as reason effect</text><text transform="translate(702.7,719.7) rotate(379.40)" y="3.0" text-anchor="end">Bike-shedding effect</text><text transform="translate(707.8,705.9) rotate(381.13)" y="3.0" text-anchor="end">Law of Triviality</text><text transform="translate(713.3,692.2) rotate(382.85)" y="3.0" text-anchor="end">Delmore effect</text><text transform="translate(719.3,678.7) rotate(384.57)" y="3.0" text-anchor="end">Conjunction fallacy</text><text transform="translate(725.6,665.5) rotate(386.29)" y="3.0" text-anchor="end">Occam's razor</text><text transform="translate(732.3,652.4) rotate(388.02)" y="3.0" text-anchor="end">Less-is-better effect</text></g>
<g fill="#8f8f8f"><circle cx="755.1" cy="631.8" r="3.5"/><circle cx="762.8" cy="619.6" r="3.5"/><circle cx="770.9" cy="607.7" r="3.5"/><circle cx="779.3" cy="596.0" r="3.5"/><circle cx="788.1" cy="584.5" r="3.5"/><circle cx="797.2" cy="573.3" r="3.5"/></g>
<g fill="#747474" font-size="14.45"><text transform="translate(746.9,626.8) rotate(391.46)" y="3.0" text-anchor="end">Misattribution of memory</text><text transform="translate(754.8,614.4) rotate(393.18)" y="3.0" text-anchor="end">Source confusion</text><text transform="translate(763.0,602.2) rotate(394.90)" y="3.0" text-anchor="end">Cryptomnesia</text><text transform="translate(771.6,590.2) rotate(396.63)" y="3.0" text-anchor="end">False memory</text><text transform="translate(780.5,578.6) rotate(398.35)" y="3.0" text-anchor="end">Suggestibility</text><text transform="translate(789.8,567.2) rotate(400.07)" y="3.0" text-anchor="end">Spacing effect</text></g>
<g fill="#8f8f8f"><circle cx="816.4" cy="551.8" r="3.5"/><circle cx="826.5" cy="541.5" r="3.5"/><circle cx="836.9" cy="531.5" r="3.5"/><circle cx="847.6" cy="521.8" r="3.5"/><circle cx="858.6" cy="512.5" r="3.5"/><circle cx="869.8" cy="503.5" r="3.5"/></g>
<g fill="#747474" font-size="14.45"><text transform="translate(809.5,545.2) rotate(403.52)" y="3.0" text-anchor="end">Implicit associations</text><text transform="translate(819.8,534.7) rotate(405.24)" y="3.0" text-anchor="end">Implicit stereotypes</text><text transform="translate(830.4,524.5) rotate(406.96)" y="3.0" text-anchor="end">Stereotypical bias</text><text transform="translate(841.3,514.6) rotate(408.68)" y="3.0" text-anchor="end">Prejudice</text><text transform="translate(852.5,505.1) rotate(410.41)" y="3.0" text-anchor="end">Negativity bias</text><text transform="translate(863.9,495.9) rotate(412.13)" y="3.0" text-anchor="end">Fading affect bias</text></g>
<g fill="#8f8f8f"><circle cx="893.1" cy="486.4" r="3.5"/><circle cx="905.1" cy="478.5" r="3.5"/><circle cx="917.4" cy="470.9" r="3.5"/><circle cx="929.9" cy="463.6" r="3.5"/><circle cx="942.6" cy="456.8" r="3.5"/><circle cx="955.5" cy="450.3" r="3.5"/><circle cx="968.5" cy="444.2" r="3.5"/><circle cx="981.8" cy="438.5" r="3.5"/><circle cx="995.2" cy="433.2" r="3.5"/><circle cx="1008.8" cy="428.3" r="3.5"/><circle cx="1022.5" cy="423.9" r="3.5"/><circle cx="1036.3" cy="419.8" r="3.5"/><circle cx="1050.3" cy="416.2" r="3.5"/></g>
<g fill="#747474" font-size="14.45"><text transform="translate(887.7,478.5) rotate(415.57)" y="3.0" text-anchor="end">Peak-end rule</text><text transform="translate(900.0,470.4) rotate(417.30)" y="3.0" text-anchor="end">Leveling and sharpening</text><text transform="translate(912.5,462.6) rotate(419.02)" y="3.0" text-anchor="end">Misinformation effect</text><text transform="translate(925.2,455.2) rotate(420.74)" y="3.0" text-anchor="end">Serial recall effect</text><text transform="translate(938.1,448.2) rotate(422.46)" y="3.0" text-anchor="end">List-length effect</text><text transform="translate(951.3,441.6) rotate(424.19)" y="3.0" text-anchor="end">Duration neglect</text><text transform="translate(964.6,435.4) rotate(425.91)" y="3.0" text-anchor="end">Modality effect</text><text transform="translate(978.1,429.6) rotate(427.63)" y="3.0" text-anchor="end">Memory inhibition</text><text transform="translate(991.8,424.2) rotate(429.35)" y="3.0" text-anchor="end">Primacy effect</text><text transform="translate(1005.7,419.3) rotate(431.08)" y="3.0" text-anchor="end">Recency effect</text><text transform="translate(1019.7,414.7) rotate(432.80)" y="3.0" text-anchor="end">Part-list cueing effect</text><text transform="translate(1033.8,410.6) rotate(434.52)" y="3.0" text-anchor="end">Serial position effect</text><text transform="translate(1048.0,406.8) rotate(436.24)" y="3.0" text-anchor="end">Suffix effect</text></g>
<g fill="#8f8f8f"><circle cx="1078.5" cy="410.1" r="3.5"/><circle cx="1092.7" cy="407.8" r="3.5"/><circle cx="1107.0" cy="405.8" r="3.5"/><circle cx="1121.4" cy="404.3" r="3.5"/><circle cx="1135.8" cy="403.3" r="3.5"/><circle cx="1150.2" cy="402.6" r="3.5"/></g>
<g fill="#747474" font-size="14.45"><text transform="translate(1076.8,400.7) rotate(439.69)" y="3.0" text-anchor="end">Levels of processing effect</text><text transform="translate(1091.3,398.3) rotate(441.41)" y="3.0" text-anchor="end">Absent-mindedness</text><text transform="translate(1105.9,396.3) rotate(443.13)" y="3.0" text-anchor="end">Testing effect</text><text transform="translate(1120.5,394.8) rotate(444.86)" y="3.0" text-anchor="end">Next-in-line effect</text><text transform="translate(1135.2,393.7) rotate(446.58)" y="3.0" text-anchor="end">Google effect</text><text transform="translate(1149.9,393.0) rotate(448.30)" y="3.0" text-anchor="end">Tip of the tongue effect</text></g>
<g fill="#72aab0"><circle cx="1179.0" cy="402.6" r="3.5"/><circle cx="1193.4" cy="403.3" r="3.5"/><circle cx="1207.8" cy="404.4" r="3.5"/><circle cx="1222.2" cy="405.9" r="3.5"/><circle cx="1236.5" cy="407.8" r="3.5"/><circle cx="1250.7" cy="410.2" r="3.5"/><circle cx="1264.8" cy="413.0" r="3.5"/><circle cx="1278.9" cy="416.3" r="3.5"/><circle cx="1292.9" cy="419.9" r="3.5"/><circle cx="1306.7" cy="424.0" r="3.5"/><circle cx="1320.4" cy="428.5" r="3.5"/><circle cx="1334.0" cy="433.4" r="3.5"/></g>
<g fill="#5a8f96" font-size="14.45"><text transform="translate(1179.3,393.0) rotate(271.75)" y="3.0">Availability heuristic</text><text transform="translate(1194.0,393.7) rotate(273.47)" y="3.0">Attentional bias</text><text transform="translate(1208.7,394.8) rotate(275.19)" y="3.0">Illusory truth effect</text><text transform="translate(1223.3,396.4) rotate(276.91)" y="3.0">Mere exposure effect</text><text transform="translate(1237.9,398.4) rotate(278.64)" y="3.0">Context effect</text><text transform="translate(1252.4,400.8) rotate(280.36)" y="3.0">Cue-dependent forgetting</text><text transform="translate(1266.8,403.6) rotate(282.08)" y="3.0">Mood-congruent memory bias</text><text transform="translate(1281.2,406.9) rotate(283.80)" y="3.0">Frequency illusion</text><text transform="translate(1295.4,410.7) rotate(285.53)" y="3.0">Baader-Meinhof Phenomenon</text><text transform="translate(1309.5,414.8) rotate(287.25)" y="3.0">Empathy gap</text><text transform="translate(1323.5,419.4) rotate(288.97)" y="3.0">Omission bias</text><text transform="translate(1337.4,424.4) rotate(290.69)" y="3.0">Base rate fallacy</text></g>
<g fill="#72aab0"><circle cx="1360.6" cy="444.4" r="3.5"/><circle cx="1373.7" cy="450.5" r="3.5"/><circle cx="1386.6" cy="456.9" r="3.5"/><circle cx="1399.3" cy="463.8" r="3.5"/><circle cx="1411.8" cy="471.1" r="3.5"/><circle cx="1424.0" cy="478.7" r="3.5"/></g>
<g fill="#5a8f96" font-size="14.45"><text transform="translate(1364.6,435.6) rotate(294.14)" y="3.0">Bizarreness effect</text><text transform="translate(1377.9,441.8) rotate(295.86)" y="3.0">Humor effect</text><text transform="translate(1391.0,448.4) rotate(297.58)" y="3.0">Von Restorff effect</text><text transform="translate(1404.0,455.4) rotate(299.31)" y="3.0">Picture superiority effect</text><text transform="translate(1416.7,462.8) rotate(301.03)" y="3.0">Self-relevance effect</text><text transform="translate(1429.2,470.6) rotate(302.75)" y="3.0">Negativity bias</text></g>
<g fill="#72aab0"><circle cx="1447.8" cy="495.0" r="3.5"/><circle cx="1459.3" cy="503.7" r="3.5"/><circle cx="1470.5" cy="512.7" r="3.5"/><circle cx="1481.5" cy="522.1" r="3.5"/><circle cx="1492.2" cy="531.8" r="3.5"/><circle cx="1502.6" cy="541.8" r="3.5"/><circle cx="1512.7" cy="552.1" r="3.5"/><circle cx="1522.4" cy="562.8" r="3.5"/></g>
<g fill="#5a8f96" font-size="14.45"><text transform="translate(1453.5,487.3) rotate(306.20)" y="3.0">Anchoring</text><text transform="translate(1465.2,496.1) rotate(307.92)" y="3.0">Conservatism</text><text transform="translate(1476.7,505.4) rotate(309.64)" y="3.0">Contrast effect</text><text transform="translate(1487.9,514.9) rotate(311.36)" y="3.0">Distinction bias</text><text transform="translate(1498.8,524.8) rotate(313.09)" y="3.0">Focusing effect</text><text transform="translate(1509.3,535.0) rotate(314.81)" y="3.0">Framing effect</text><text transform="translate(1519.6,545.5) rotate(316.53)" y="3.0">Money illusion</text><text transform="translate(1529.6,556.4) rotate(318.25)" y="3.0">Weber-Fechner law</text></g>
<g fill="#72aab0"><circle cx="1541.0" cy="584.8" r="3.5"/><circle cx="1549.7" cy="596.3" r="3.5"/><circle cx="1558.2" cy="608.0" r="3.5"/><circle cx="1566.2" cy="620.0" r="3.5"/><circle cx="1573.9" cy="632.2" r="3.5"/><circle cx="1581.3" cy="644.6" r="3.5"/><circle cx="1588.2" cy="657.2" r="3.5"/><circle cx="1594.8" cy="670.1" r="3.5"/><circle cx="1601.0" cy="683.1" r="3.5"/><circle cx="1606.8" cy="696.3" r="3.5"/><circle cx="1612.2" cy="709.7" r="3.5"/><circle cx="1617.1" cy="723.2" r="3.5"/><circle cx="1621.7" cy="736.9" r="3.5"/></g>
<g fill="#5a8f96" font-size="14.45"><text transform="translate(1548.5,578.9) rotate(321.70)" y="3.0">Confirmation bias</text><text transform="translate(1557.5,590.6) rotate(323.42)" y="3.0">Congruence bias</text><text transform="translate(1566.0,602.5) rotate(325.14)" y="3.0">Post-purchase rationalization</text><text transform="translate(1574.3,614.7) rotate(326.87)" y="3.0">Choice-supportive bias</text><text transform="translate(1582.1,627.2) rotate(328.59)" y="3.0">Selective perception</text><text transform="translate(1589.6,639.8) rotate(330.31)" y="3.0">Observer-expectancy effect</text><text transform="translate(1596.7,652.7) rotate(332.03)" y="3.0">Experimenter's bias</text><text transform="translate(1603.4,665.8) rotate(333.76)" y="3.0">Observer effect</text><text transform="translate(1609.7,679.1) rotate(335.48)" y="3.0">Expectation bias</text><text transform="translate(1615.6,692.6) rotate(337.20)" y="3.0">Ostrich effect</text><text transform="translate(1621.1,706.2) rotate(338.92)" y="3.0">Subjective validation</text><text transform="translate(1626.2,720.1) rotate(340.65)" y="3.0">Continued influence effect</text><text transform="translate(1630.9,734.0) rotate(342.37)" y="3.0">Semmelweis reflex</text></g>
<g fill="#72aab0"><circle cx="1629.6" cy="764.7" r="3.5"/><circle cx="1633.0" cy="778.7" r="3.5"/><circle cx="1635.9" cy="792.8" r="3.5"/></g>
<g fill="#5a8f96" font-size="14.45"><text transform="translate(1638.9,762.3) rotate(345.81)" y="3.0">Bias blind spot</text><text transform="translate(1642.3,776.6) rotate(347.54)" y="3.0">Naïve cynicism</text><text transform="translate(1645.3,791.0) rotate(349.26)" y="3.0">Naïve realism</text></g>
<circle cx="1861.1" cy="917.7" r="8.2" fill="#7ea5de" stroke="#fff" stroke-width="10" paint-order="stroke"/>
<circle cx="1790.7" cy="1190.3" r="8.2" fill="#7ea5de" stroke="#fff" stroke-width="10" paint-order="stroke"/>
<circle cx="1649.9" cy="1383.5" r="8.2" fill="#7ea5de" stroke="#fff" stroke-width="10" paint-order="stroke"/>
<circle cx="1478.9" cy="1505.8" r="8.2" fill="#7ea5de" stroke="#fff" stroke-width="10" paint-order="stroke"/>
<circle cx="1312.8" cy="1564.8" r="8.2" fill="#7ea5de" stroke="#fff" stroke-width="10" paint-order="stroke"/>
<circle cx="1082.8" cy="1576.5" r="8.2" fill="#7ea5de" stroke="#fff" stroke-width="10" paint-order="stroke"/>
<circle cx="725.7" cy="1429.5" r="8.2" fill="#a6d47e" stroke="#fff" stroke-width="10" paint-order="stroke"/>
<circle cx="546.5" cy="1215.2" r="8.2" fill="#a6d47e" stroke="#fff" stroke-width="10" paint-order="stroke"/>
<circle cx="481.4" cy="1044.1" r="8.2" fill="#a6d47e" stroke="#fff" stroke-width="10" paint-order="stroke"/>
<circle cx="466.1" cy="823.4" r="8.2" fill="#a6d47e" stroke="#fff" stroke-width="10" paint-order="stroke"/>
<circle cx="507.5" cy="639.5" r="8.2" fill="#a6d47e" stroke="#fff" stroke-width="10" paint-order="stroke"/>
<circle cx="598.4" cy="471.9" r="8.2" fill="#a3a3a3" stroke="#fff" stroke-width="10" paint-order="stroke"/>
<circle cx="696.2" cy="363.7" r="8.2" fill="#a3a3a3" stroke="#fff" stroke-width="10" paint-order="stroke"/>
<circle cx="882.4" cy="243.4" r="8.2" fill="#a3a3a3" stroke="#fff" stroke-width="10" paint-order="stroke"/>
<circle cx="1094.1" cy="188.0" r="8.2" fill="#a3a3a3" stroke="#fff" stroke-width="10" paint-order="stroke"/>
<circle cx="1302.1" cy="196.4" r="8.2" fill="#8dbfc6" stroke="#fff" stroke-width="10" paint-order="stroke"/>
<circle cx="1499.0" cy="269.7" r="8.2" fill="#8dbfc6" stroke="#fff" stroke-width="10" paint-order="stroke"/>
<circle cx="1633.3" cy="367.4" r="8.2" fill="#8dbfc6" stroke="#fff" stroke-width="10" paint-order="stroke"/>
<circle cx="1781.4" cy="556.2" r="8.2" fill="#8dbfc6" stroke="#fff" stroke-width="10" paint-order="stroke"/>
<circle cx="1845.6" cy="731.9" r="8.2" fill="#8dbfc6" stroke="#fff" stroke-width="10" paint-order="stroke"/>
<text fill="#6597a0" font-size="18.7" text-anchor="start"><tspan x="1281.7" y="151.7">We notice things already primed in</tspan><tspan x="1281.7" y="176.6">memory or repeated often</tspan></text>
<text fill="#6597a0" font-size="18.7" text-anchor="start"><tspan x="1516.5" y="217.6">Bizarre, funny, visually-striking, or</tspan><tspan x="1516.5" y="242.5">anthropomorphic things stick out</tspan><tspan x="1516.5" y="267.4">more than non-bizarre/unfunny things</tspan></text>
<text fill="#6597a0" font-size="18.7" text-anchor="start"><tspan x="1651.6" y="339.7">We notice when</tspan><tspan x="1651.6" y="364.6">something has changed</tspan></text>
<text fill="#6597a0" font-size="18.7" text-anchor="start"><tspan x="1806.6" y="538.3">We are drawn to details that</tspan><tspan x="1806.6" y="563.2">confirm our own existing beliefs</tspan></text>
<text fill="#6597a0" font-size="18.7" text-anchor="start"><tspan x="1865.8" y="705.9">We notice flaws in others</tspan><tspan x="1865.8" y="730.8">more easily than we</tspan><tspan x="1865.8" y="755.7">notice flaws in ourselves</tspan></text>
<text fill="#5b86bb" font-size="18.7" text-anchor="start"><tspan x="1883.9" y="906.0">We tend to find stories and</tspan><tspan x="1883.9" y="930.9">patterns even when looking</tspan><tspan x="1883.9" y="955.8">at sparse data</tspan></text>
<text fill="#5b86bb" font-size="18.7" text-anchor="start"><tspan x="1817.8" y="1182.9">We fill in characteristics from</tspan><tspan x="1817.8" y="1207.8">stereotypes, generalities,</tspan><tspan x="1817.8" y="1232.7">and prior histories</tspan></text>
<text fill="#5b86bb" font-size="18.7" text-anchor="start"><tspan x="1677.8" y="1392.8">We imagine things and people</tspan><tspan x="1677.8" y="1417.7">we're familiar with or fond of as</tspan><tspan x="1677.8" y="1442.6">better</tspan></text>
<text fill="#5b86bb" font-size="18.7" text-anchor="start"><tspan x="1497.0" y="1527.2">We simplify probabilities and numbers</tspan><tspan x="1497.0" y="1552.1">to make them easier to think about</tspan></text>
<text fill="#5b86bb" font-size="18.7" text-anchor="start"><tspan x="1282.2" y="1602.4">We think we know what</tspan><tspan x="1282.2" y="1627.3">other people are thinking</tspan></text>
<text fill="#5b86bb" font-size="18.7" text-anchor="start"><tspan x="915.9" y="1612.3">We project our current mindset and</tspan><tspan x="915.9" y="1637.2">assumptions onto the past and future</tspan></text>
<text fill="#6da33f" font-size="18.7" text-anchor="end"><tspan x="736.2" y="1463.3">To act, we must be confident</tspan><tspan x="736.2" y="1488.2">we can make an impact and</tspan><tspan x="736.2" y="1513.1">feel what we do is important</tspan></text>
<text fill="#6da33f" font-size="18.7" text-anchor="end"><tspan x="518.2" y="1208.8">To stay focused, we favor the</tspan><tspan x="518.2" y="1233.7">immediate, relatable thing</tspan><tspan x="518.2" y="1258.6">in front of us</tspan></text>
<text fill="#6da33f" font-size="18.7" text-anchor="end"><tspan x="454.0" y="1023.9">To get things done, we tend to</tspan><tspan x="454.0" y="1048.8">complete things we've invested</tspan><tspan x="454.0" y="1073.7">time &amp; energy in</tspan></text>
<text fill="#6da33f" font-size="18.7" text-anchor="end"><tspan x="437.2" y="791.6">To avoid mistakes,</tspan><tspan x="437.2" y="816.5">we aim to preserve autonomy</tspan><tspan x="437.2" y="841.4">and group status, and avoid</tspan><tspan x="437.2" y="866.3">irreversible decisions</tspan></text>
<text fill="#6da33f" font-size="18.7" text-anchor="start"><tspan x="228.8" y="610.2">We favor simple-looking options</tspan><tspan x="228.8" y="635.1">and complete information over</tspan><tspan x="228.8" y="660.0">complex, ambiguous options</tspan></text>
<text fill="#6b6b6b" font-size="18.7" text-anchor="end"><tspan x="574.4" y="457.0">We edit and reinforce</tspan><tspan x="574.4" y="481.9">some memories after the fact</tspan></text>
<text fill="#6b6b6b" font-size="18.7" text-anchor="start"><tspan x="507.0" y="340.0">We discard specifics</tspan><tspan x="507.0" y="364.9">to form generalities</tspan></text>
<text fill="#6b6b6b" font-size="18.7" text-anchor="start"><tspan x="661.4" y="225.4">We reduce events and lists</tspan><tspan x="661.4" y="250.3">to their key elements</tspan></text>
<text fill="#6b6b6b" font-size="18.7" text-anchor="start"><tspan x="835.5" y="152.0">We store memories differently based</tspan><tspan x="835.5" y="176.9">on how they were experienced</tspan></text>
<text x="279.1" y="258.3" fill="#858585" font-size="32.4" font-weight="bold" textLength="255.7" lengthAdjust="spacingAndGlyphs">What Should We</text>
<text x="280.0" y="302.0" fill="#858585" font-size="32.4" font-weight="bold" textLength="186.1" lengthAdjust="spacingAndGlyphs">Remember?</text>
<text x="1927.4" y="214.8" fill="#5b9097" font-size="32.4" font-weight="bold" textLength="148.5" lengthAdjust="spacingAndGlyphs">Too Much</text>
<text x="1928.7" y="258.8" fill="#5b9097" font-size="32.4" font-weight="bold" textLength="179.8" lengthAdjust="spacingAndGlyphs">Information</text>
<text x="1919.7" y="1501.0" fill="#5b89c8" font-size="32.4" font-weight="bold" textLength="181.4" lengthAdjust="spacingAndGlyphs">Not Enough</text>
<text x="1920.0" y="1544.8" fill="#5b89c8" font-size="32.4" font-weight="bold" textLength="133.3" lengthAdjust="spacingAndGlyphs">Meaning</text>
<text x="234.0" y="1384.8" fill="#6aa52f" font-size="32.4" font-weight="bold" textLength="140.2" lengthAdjust="spacingAndGlyphs">We Need</text>
<text x="234.0" y="1428.7" fill="#6aa52f" font-size="32.4" font-weight="bold" textLength="163.2" lengthAdjust="spacingAndGlyphs">To Act Fast</text>
<text x="75.6" y="96.6" font-size="37.9" fill="#111" font-weight="bold" letter-spacing="5.59">COGNITIVE BIAS</text>
<text x="477.9" y="96.6" font-size="37.9" fill="#111" letter-spacing="6.58">CODEX</text>
<g font-size="15.5" fill="#1a1a1a">
<text x="77.5" y="1566.8" font-weight="bold">Visual &amp; Algorithmic Design:</text><text x="311.4" y="1566.8" textLength="139.5" lengthAdjust="spacingAndGlyphs">John Manoogian III</text>
<text x="77.5" y="1612.0" font-weight="bold">Concept &amp; Categorization:</text><text x="311.4" y="1612.0" textLength="104.2" lengthAdjust="spacingAndGlyphs">Buster Benson</text>
<text x="77.5" y="1656.7" font-weight="bold">List of 188 Cognitive Biases:</text><text x="311.4" y="1656.7" textLength="72.6" lengthAdjust="spacingAndGlyphs">Wikipedia</text>
</g>
<path d="M67.3,1584.7H476.8M67.3,1629.4H476.8" stroke="#cfcfcf" stroke-width="1"/>
<text x="2014.9" y="1671.9" font-size="30.5" letter-spacing="-0.3" font-weight="bold" fill="#333">designhacks.co</text>
<g id="brain">
<path d="M1161.0,746.4 1161.9,745.7 1162.8,745.4 1163.7,745.1 1164.7,744.9 1165.7,744.7 1166.8,744.6 1167.8,744.5 1168.9,744.4 1170.0,744.4 1171.1,744.5 1172.2,744.6 1173.3,744.7 1174.4,744.9 1175.4,745.1 1176.5,745.3 1177.6,745.6 1178.6,746.0 1179.6,746.3 1180.6,746.8 1181.5,747.4 1182.5,747.2 1183.5,747.0 1184.5,746.9 1185.3,746.8 1186.6,746.7 1187.8,746.7 1189.0,746.8 1190.1,746.9 1191.1,747.0 1192.1,747.2 1193.1,747.5 1194.0,747.7 1194.9,748.0 1195.9,748.4 1196.8,748.8 1197.7,749.2 1198.6,749.7 1199.6,750.2 1200.5,750.8 1201.5,751.6 1202.2,752.4 1203.1,752.4 1204.2,752.4 1205.2,752.5 1206.2,752.7 1207.2,752.9 1208.2,753.1 1209.2,753.4 1210.2,753.7 1211.2,754.0 1212.2,754.3 1213.2,754.7 1214.2,755.1 1215.2,755.5 1216.1,755.9 1217.1,756.3 1218.0,756.7 1218.9,757.2 1219.8,757.6 1220.6,758.1 1221.4,758.6 1222.4,759.1 1223.3,759.7 1224.2,760.3 1225.1,760.9 1225.9,761.6 1226.8,762.3 1227.6,763.1 1228.4,763.7 1229.5,763.8 1230.5,764.0 1231.5,764.3 1232.5,764.5 1233.4,764.8 1234.3,765.2 1235.2,765.5 1236.1,765.8 1237.0,766.2 1237.8,766.5 1238.9,767.0 1239.9,767.4 1240.8,767.9 1241.7,768.3 1242.6,768.8 1243.5,769.2 1244.3,769.7 1245.2,770.2 1246.0,770.7 1246.9,771.3 1247.7,771.9 1248.6,772.5 1249.5,773.2 1250.4,774.0 1251.1,774.7 1251.8,775.5 1252.6,776.1 1253.8,776.2 1254.8,776.5 1255.9,776.8 1257.0,777.1 1258.1,777.5 1259.1,777.9 1260.1,778.4 1261.2,778.8 1262.2,779.4 1263.1,779.9 1264.0,780.5 1264.9,781.0 1265.8,781.6 1266.6,782.3 1267.3,782.9 1268.1,783.7 1268.9,784.5 1269.6,785.4 1270.2,786.2 1270.7,787.0 1271.2,787.9 1271.6,788.8 1272.0,789.7 1272.3,790.7 1272.6,791.7 1273.6,792.2 1274.4,792.8 1275.3,793.4 1276.1,794.1 1276.9,794.8 1277.6,795.4 1278.3,796.0 1279.1,796.7 1279.8,797.3 1280.5,798.0 1281.2,798.7 1281.9,799.4 1282.6,800.2 1283.3,800.9 1283.9,801.7 1284.6,802.6 1285.2,803.4 1285.8,804.3 1286.4,805.2 1286.9,806.1 1287.5,807.0 1288.0,808.0 1288.4,809.0 1288.7,810.0 1288.9,811.1 1290.0,811.5 1290.9,812.2 1291.7,812.8 1292.5,813.5 1293.3,814.3 1294.0,815.0 1294.7,815.8 1295.4,816.6 1296.1,817.5 1296.7,818.3 1297.4,819.2 1298.0,820.1 1298.5,821.0 1299.0,822.0 1299.5,823.0 1300.0,824.0 1300.4,824.9 1300.7,825.8 1301.0,826.8 1301.3,827.7 1301.6,828.7 1301.8,829.7 1301.9,830.7 1301.8,831.9 1302.6,832.6 1303.3,833.4 1303.9,834.2 1304.5,835.1 1305.0,836.0 1305.5,836.9 1306.0,837.8 1306.5,838.7 1306.9,839.7 1307.4,840.6 1307.7,841.6 1308.1,842.6 1308.4,843.6 1308.8,844.5 1309.0,845.5 1309.3,846.5 1309.5,847.6 1309.8,848.6 1310.0,849.7 1310.1,850.8 1310.3,851.9 1310.4,853.0 1310.5,854.1 1310.5,855.2 1310.4,856.3 1310.2,857.4 1310.7,858.4 1311.2,859.4 1311.7,860.3 1312.1,861.3 1312.4,862.3 1312.7,863.2 1313.0,864.1 1313.2,865.0 1313.4,865.9 1313.6,867.1 1313.7,868.3 1313.8,869.4 1313.8,870.5 1313.8,871.6 1313.8,872.7 1313.7,873.8 1313.6,874.8 1313.4,875.8 1313.2,876.8 1312.9,877.7 1312.6,878.6 1312.3,879.5 1311.9,880.4 1311.5,881.2 1311.0,882.0 1310.4,882.9 1309.6,883.7 1308.9,884.5 1308.7,885.6 1308.3,886.6 1307.8,887.6 1307.3,888.6 1306.7,889.5 1306.1,890.4 1305.5,891.2 1304.9,892.0 1304.3,892.8 1303.7,893.6 1303.0,894.5 1302.1,895.4 1301.3,896.1 1300.4,896.8 1299.6,897.4 1298.8,898.0 1298.1,898.6 1297.4,899.2 1296.8,899.8 1296.2,900.5 1295.7,901.3 1295.4,902.0 1295.1,902.8 1294.9,903.7 1294.7,904.7 1294.5,905.7 1294.3,906.8 1294.0,907.9 1293.8,909.0 1293.6,910.1 1294.0,911.1 1294.4,912.2 1294.6,913.2 1294.8,914.1 1294.9,915.0 1295.0,916.2 1295.1,917.3 1295.1,918.4 1295.2,919.4 1295.1,920.4 1295.1,921.3 1295.0,922.3 1294.9,923.3 1294.8,924.2 1294.6,925.2 1294.3,926.2 1294.1,927.1 1293.8,928.1 1293.5,929.0 1293.2,930.0 1292.8,930.9 1292.3,931.9 1291.8,932.8 1291.1,933.7 1290.4,934.6 1289.7,935.2 1289.0,935.9 1288.2,936.5 1287.5,937.3 1287.1,938.3 1286.7,939.3 1286.1,940.3 1285.6,941.2 1284.9,942.1 1284.3,943.0 1283.6,943.8 1283.0,944.6 1282.3,945.3 1281.4,946.1 1280.5,946.8 1279.7,947.4 1278.8,948.0 1277.9,948.5 1276.9,948.9 1276.0,949.4 1275.0,949.8 1273.9,950.3 1272.7,950.8 1271.9,951.2 1271.0,951.6 1270.1,951.9 1269.1,952.3 1268.1,952.7 1267.0,953.0 1265.9,953.3 1264.8,953.5 1263.8,954.1 1263.0,954.9 1262.2,955.7 1261.4,956.3 1260.6,957.0 1259.9,957.6 1259.2,958.1 1258.5,958.6 1257.3,959.4 1256.0,960.1 1254.9,960.6 1253.9,961.1 1253.1,961.5 1252.6,961.8 1252.3,962.1 1252.2,962.3 1252.2,962.5 1252.4,963.0 1252.9,963.8 1253.6,964.6 1254.4,965.6 1255.1,966.6 1255.6,967.6 1256.1,968.8 1256.5,970.0 1256.8,971.1 1257.0,972.3 1257.1,973.4 1256.9,974.4 1256.3,975.3 1256.6,976.3 1256.6,977.3 1256.3,978.4 1255.9,979.4 1255.3,980.3 1254.6,981.0 1253.8,981.7 1252.9,982.3 1251.9,982.9 1250.8,983.3 1249.5,983.7 1248.2,984.1 1247.2,984.2 1246.2,984.3 1245.2,984.4 1244.1,984.5 1242.9,984.5 1241.7,984.5 1240.5,984.4 1239.4,984.2 1238.2,984.0 1237.1,983.7 1236.1,983.4 1235.1,983.0 1234.2,982.4 1233.4,981.9 1232.5,981.2 1231.8,980.3 1230.8,980.2 1229.7,980.0 1228.7,979.6 1227.7,979.3 1226.7,978.9 1225.7,978.5 1224.7,978.0 1223.8,977.5 1222.8,977.0 1221.9,976.5 1220.9,975.9 1220.0,975.2 1219.1,974.6 1218.3,974.0 1217.5,973.3 1216.7,972.7 1216.0,972.1 1215.1,971.3 1214.4,970.4 1213.7,969.6 1213.2,968.8 1212.6,968.0 1212.0,967.2 1211.4,966.5 1210.6,965.9 1209.7,965.2 1208.8,964.7 1207.9,964.3 1206.8,964.8 1205.8,965.2 1204.7,965.5 1203.6,965.8 1202.5,966.1 1201.4,966.3 1200.3,966.5 1199.1,966.6 1198.0,966.6 1196.9,966.5 1195.9,966.3 1194.9,966.1 1193.8,965.9 1192.9,965.6 1191.9,965.2 1190.9,964.8 1190.0,964.4 1189.1,963.8 1188.3,963.1 1187.4,962.8 1186.3,962.8 1185.3,962.6 1184.3,962.4 1183.3,962.0 1182.3,961.6 1181.2,961.1 1180.2,960.6 1179.3,960.0 1178.3,959.4 1177.5,958.8 1176.6,958.1 1175.8,957.5 1175.1,957.0 1174.4,956.4 1173.4,955.5 1172.6,954.6 1172.0,953.8 1171.5,953.1 1171.0,952.5 1170.4,952.0 1169.5,951.5 1168.7,951.3 1167.9,951.0 1166.9,950.8 1165.9,950.6 1164.8,950.4 1163.7,950.0 1162.6,950.7 1161.4,951.2 1160.3,951.6 1159.1,952.0 1157.9,952.4 1157.0,952.6 1156.1,952.9 1155.2,953.2 1154.2,953.4 1153.2,953.7 1152.2,953.9 1151.2,954.1 1150.2,954.4 1149.1,954.6 1148.1,954.8 1147.1,955.0 1146.1,955.2 1145.1,955.3 1144.1,955.5 1143.2,955.6 1142.3,955.7 1141.1,955.9 1140.0,956.0 1139.0,956.1 1137.9,956.1 1136.9,956.2 1135.9,956.2 1134.9,956.2 1133.9,956.1 1133.1,956.9 1132.3,957.4 1131.4,958.0 1130.5,958.5 1129.6,959.0 1128.7,959.6 1127.8,960.1 1126.8,960.6 1125.9,961.2 1124.9,961.7 1124.0,962.1 1123.0,962.6 1121.9,963.0 1120.9,963.3 1119.9,963.6 1118.8,963.8 1117.7,963.9 1116.6,964.0 1115.6,964.0 1114.5,964.0 1113.5,963.9 1112.5,963.7 1111.4,963.4 1110.4,962.9 1109.3,963.3 1108.1,963.5 1106.9,963.7 1106.0,963.7 1105.0,963.7 1104.1,963.7 1103.0,963.6 1102.0,963.5 1100.9,963.3 1099.9,963.2 1098.8,963.0 1097.7,962.7 1096.7,962.5 1095.6,962.2 1094.6,961.9 1093.6,961.6 1092.7,961.3 1091.8,960.9 1090.9,960.6 1089.8,960.2 1088.7,959.8 1087.7,959.3 1086.7,958.9 1085.7,958.4 1084.7,957.9 1083.8,957.4 1083.0,956.8 1082.2,956.1 1081.6,955.3 1080.6,955.1 1079.6,954.9 1078.6,954.4 1077.6,953.8 1076.7,953.0 1075.9,952.2 1075.2,951.3 1074.5,950.4 1073.8,949.4 1073.2,948.5 1072.7,947.7 1072.2,947.0 1071.7,946.3 1070.9,945.3 1070.2,944.5 1069.6,943.8 1068.9,943.1 1068.2,942.4 1067.3,941.5 1066.4,940.4 1065.7,939.7 1064.7,939.6 1063.7,939.5 1062.7,939.3 1061.6,939.0 1060.5,938.8 1059.4,938.5 1058.3,938.2 1057.2,937.9 1056.2,937.5 1055.1,937.2 1054.1,936.8 1053.1,936.3 1052.1,935.9 1051.2,935.4 1050.2,934.9 1049.2,934.4 1048.3,933.9 1047.3,933.4 1046.4,932.8 1045.5,932.2 1044.7,931.6 1043.9,930.9 1043.1,930.3 1042.3,929.5 1041.6,928.7 1040.9,927.8 1040.2,926.9 1039.7,925.9 1039.3,924.8 1038.2,924.3 1037.3,923.7 1036.4,923.0 1035.6,922.3 1034.9,921.6 1034.2,920.8 1033.6,919.8 1033.0,918.8 1032.6,917.7 1032.3,916.7 1032.1,915.7 1031.8,914.8 1031.6,914.0 1031.2,913.2 1030.8,912.6 1030.3,912.0 1029.6,911.5 1028.8,911.0 1027.8,910.4 1026.8,909.9 1025.8,909.2 1024.9,908.5 1024.1,907.6 1023.6,906.5 1022.8,906.1 1021.9,905.7 1021.1,905.1 1020.3,904.5 1019.5,903.8 1018.8,903.1 1018.1,902.3 1017.4,901.4 1016.8,900.5 1016.3,899.5 1015.8,898.4 1015.4,897.3 1015.1,896.4 1014.9,895.4 1014.7,894.4 1014.6,893.4 1014.6,892.4 1014.6,891.3 1014.6,890.3 1014.7,889.2 1014.8,888.1 1014.9,887.0 1015.1,885.9 1015.3,884.8 1015.6,883.6 1015.9,882.5 1016.3,881.3 1016.3,880.4 1015.9,879.4 1015.7,878.3 1015.5,877.3 1015.3,876.2 1015.2,875.1 1015.1,874.0 1015.1,872.8 1015.0,871.7 1015.1,870.6 1015.1,869.5 1015.2,868.4 1015.4,867.4 1015.5,866.3 1015.7,865.4 1015.9,864.4 1016.1,863.5 1016.3,862.7 1016.6,861.9 1017.1,860.6 1017.6,859.5 1018.1,858.7 1018.6,858.0 1018.4,857.2 1018.4,856.3 1018.4,855.4 1018.6,854.3 1018.8,852.9 1018.9,852.1 1019.1,851.3 1019.4,850.4 1019.6,849.5 1019.9,848.5 1020.3,847.5 1020.6,846.5 1021.1,845.5 1021.5,844.5 1022.0,843.5 1022.5,842.6 1023.0,841.6 1023.6,840.7 1024.2,839.7 1024.8,838.9 1025.4,838.0 1026.0,837.3 1026.7,836.6 1027.1,835.5 1027.2,834.3 1027.3,833.2 1027.5,832.2 1027.8,831.2 1028.0,830.2 1028.3,829.3 1028.6,828.3 1029.0,827.4 1029.3,826.5 1029.7,825.7 1030.1,824.8 1030.6,823.9 1031.1,823.1 1031.6,822.1 1032.2,821.2 1032.8,820.3 1033.4,819.4 1034.1,818.6 1034.8,817.8 1035.5,817.0 1036.3,816.3 1037.2,815.6 1038.3,815.0 1038.4,813.7 1038.8,812.6 1039.3,811.7 1039.8,810.7 1040.3,809.8 1040.9,808.9 1041.6,808.0 1042.3,807.1 1043.0,806.2 1043.7,805.4 1044.5,804.6 1045.3,803.8 1046.0,803.1 1046.8,802.4 1047.6,801.7 1048.3,801.1 1049.3,800.4 1050.2,799.8 1051.2,799.1 1052.1,798.6 1053.1,798.1 1054.2,797.8 1054.6,796.8 1055.1,795.9 1055.7,795.1 1056.3,794.3 1057.0,793.6 1057.9,792.8 1058.8,792.1 1059.8,791.5 1060.7,791.0 1061.7,790.6 1062.7,790.2 1063.6,789.8 1064.5,789.5 1065.4,789.1 1066.4,788.7 1067.3,788.2 1068.2,787.8 1069.2,787.5 1070.3,787.1 1071.6,786.9 1072.7,786.0 1073.3,785.4 1074.0,784.7 1074.7,784.1 1075.5,783.5 1076.3,782.8 1077.2,782.2 1078.1,781.6 1079.0,781.0 1080.0,780.4 1080.9,779.9 1081.9,779.3 1082.8,778.9 1083.8,778.4 1084.7,778.0 1085.8,777.6 1086.8,777.2 1087.9,776.8 1089.0,776.5 1090.2,776.2 1091.3,775.9 1092.4,775.7 1093.6,775.5 1094.8,775.5 1095.5,774.7 1096.3,774.0 1097.0,773.4 1097.7,772.9 1098.9,772.0 1099.9,771.3 1100.8,770.6 1101.6,770.0 1102.4,769.4 1103.2,768.8 1103.9,768.1 1104.5,767.4 1105.1,766.7 1105.7,766.0 1106.3,765.2 1106.9,764.4 1107.5,763.6 1108.3,762.8 1109.0,762.0 1109.9,761.3 1110.7,760.7 1111.4,760.1 1112.3,759.6 1113.1,759.0 1114.0,758.5 1114.9,758.1 1115.9,757.6 1117.0,757.2 1118.0,756.9 1119.2,756.8 1120.0,756.4 1120.8,755.7 1121.6,755.1 1122.5,754.6 1123.4,754.0 1124.3,753.5 1125.3,753.1 1126.3,752.7 1127.3,752.2 1128.3,751.9 1129.3,751.5 1130.3,751.2 1131.3,750.9 1132.2,750.6 1133.2,750.3 1134.1,750.0 1135.1,749.8 1136.0,749.6 1136.9,749.4 1137.9,749.2 1138.9,749.1 1139.9,748.9 1140.9,748.8 1142.0,748.7 1143.1,748.7 1144.3,748.7 1145.2,748.8 1146.2,749.0 1147.0,748.5 1147.8,748.0 1148.6,747.5 1149.5,747.1 1150.4,746.7 1151.3,746.3 1152.2,745.9 1153.2,745.6 1154.2,745.3 1155.2,745.0 1156.3,744.8 1157.4,744.6 1158.6,744.4 1159.7,744.3Z" fill="#000" opacity="0.06" transform="translate(1.5,3)"/>
<path d="M1161.0,746.4 1161.9,745.7 1162.8,745.4 1163.7,745.1 1164.7,744.9 1165.7,744.7 1166.8,744.6 1167.8,744.5 1168.9,744.4 1170.0,744.4 1171.1,744.5 1172.2,744.6 1173.3,744.7 1174.4,744.9 1175.4,745.1 1176.5,745.3 1177.6,745.6 1178.6,746.0 1179.6,746.3 1180.6,746.8 1181.5,747.4 1182.5,747.2 1183.5,747.0 1184.5,746.9 1185.3,746.8 1186.6,746.7 1187.8,746.7 1189.0,746.8 1190.1,746.9 1191.1,747.0 1192.1,747.2 1193.1,747.5 1194.0,747.7 1194.9,748.0 1195.9,748.4 1196.8,748.8 1197.7,749.2 1198.6,749.7 1199.6,750.2 1200.5,750.8 1201.5,751.6 1202.2,752.4 1203.1,752.4 1204.2,752.4 1205.2,752.5 1206.2,752.7 1207.2,752.9 1208.2,753.1 1209.2,753.4 1210.2,753.7 1211.2,754.0 1212.2,754.3 1213.2,754.7 1214.2,755.1 1215.2,755.5 1216.1,755.9 1217.1,756.3 1218.0,756.7 1218.9,757.2 1219.8,757.6 1220.6,758.1 1221.4,758.6 1222.4,759.1 1223.3,759.7 1224.2,760.3 1225.1,760.9 1225.9,761.6 1226.8,762.3 1227.6,763.1 1228.4,763.7 1229.5,763.8 1230.5,764.0 1231.5,764.3 1232.5,764.5 1233.4,764.8 1234.3,765.2 1235.2,765.5 1236.1,765.8 1237.0,766.2 1237.8,766.5 1238.9,767.0 1239.9,767.4 1240.8,767.9 1241.7,768.3 1242.6,768.8 1243.5,769.2 1244.3,769.7 1245.2,770.2 1246.0,770.7 1246.9,771.3 1247.7,771.9 1248.6,772.5 1249.5,773.2 1250.4,774.0 1251.1,774.7 1251.8,775.5 1252.6,776.1 1253.8,776.2 1254.8,776.5 1255.9,776.8 1257.0,777.1 1258.1,777.5 1259.1,777.9 1260.1,778.4 1261.2,778.8 1262.2,779.4 1263.1,779.9 1264.0,780.5 1264.9,781.0 1265.8,781.6 1266.6,782.3 1267.3,782.9 1268.1,783.7 1268.9,784.5 1269.6,785.4 1270.2,786.2 1270.7,787.0 1271.2,787.9 1271.6,788.8 1272.0,789.7 1272.3,790.7 1272.6,791.7 1273.6,792.2 1274.4,792.8 1275.3,793.4 1276.1,794.1 1276.9,794.8 1277.6,795.4 1278.3,796.0 1279.1,796.7 1279.8,797.3 1280.5,798.0 1281.2,798.7 1281.9,799.4 1282.6,800.2 1283.3,800.9 1283.9,801.7 1284.6,802.6 1285.2,803.4 1285.8,804.3 1286.4,805.2 1286.9,806.1 1287.5,807.0 1288.0,808.0 1288.4,809.0 1288.7,810.0 1288.9,811.1 1290.0,811.5 1290.9,812.2 1291.7,812.8 1292.5,813.5 1293.3,814.3 1294.0,815.0 1294.7,815.8 1295.4,816.6 1296.1,817.5 1296.7,818.3 1297.4,819.2 1298.0,820.1 1298.5,821.0 1299.0,822.0 1299.5,823.0 1300.0,824.0 1300.4,824.9 1300.7,825.8 1301.0,826.8 1301.3,827.7 1301.6,828.7 1301.8,829.7 1301.9,830.7 1301.8,831.9 1302.6,832.6 1303.3,833.4 1303.9,834.2 1304.5,835.1 1305.0,836.0 1305.5,836.9 1306.0,837.8 1306.5,838.7 1306.9,839.7 1307.4,840.6 1307.7,841.6 1308.1,842.6 1308.4,843.6 1308.8,844.5 1309.0,845.5 1309.3,846.5 1309.5,847.6 1309.8,848.6 1310.0,849.7 1310.1,850.8 1310.3,851.9 1310.4,853.0 1310.5,854.1 1310.5,855.2 1310.4,856.3 1310.2,857.4 1310.7,858.4 1311.2,859.4 1311.7,860.3 1312.1,861.3 1312.4,862.3 1312.7,863.2 1313.0,864.1 1313.2,865.0 1313.4,865.9 1313.6,867.1 1313.7,868.3 1313.8,869.4 1313.8,870.5 1313.8,871.6 1313.8,872.7 1313.7,873.8 1313.6,874.8 1313.4,875.8 1313.2,876.8 1312.9,877.7 1312.6,878.6 1312.3,879.5 1311.9,880.4 1311.5,881.2 1311.0,882.0 1310.4,882.9 1309.6,883.7 1308.9,884.5 1308.7,885.6 1308.3,886.6 1307.8,887.6 1307.3,888.6 1306.7,889.5 1306.1,890.4 1305.5,891.2 1304.9,892.0 1304.3,892.8 1303.7,893.6 1303.0,894.5 1302.1,895.4 1301.3,896.1 1300.4,896.8 1299.6,897.4 1298.8,898.0 1298.1,898.6 1297.4,899.2 1296.8,899.8 1296.2,900.5 1295.7,901.3 1295.4,902.0 1295.1,902.8 1294.9,903.7 1294.7,904.7 1294.5,905.7 1294.3,906.8 1294.0,907.9 1293.8,909.0 1293.6,910.1 1294.0,911.1 1294.4,912.2 1294.6,913.2 1294.8,914.1 1294.9,915.0 1295.0,916.2 1295.1,917.3 1295.1,918.4 1295.2,919.4 1295.1,920.4 1295.1,921.3 1295.0,922.3 1294.9,923.3 1294.8,924.2 1294.6,925.2 1294.3,926.2 1294.1,927.1 1293.8,928.1 1293.5,929.0 1293.2,930.0 1292.8,930.9 1292.3,931.9 1291.8,932.8 1291.1,933.7 1290.4,934.6 1289.7,935.2 1289.0,935.9 1288.2,936.5 1287.5,937.3 1287.1,938.3 1286.7,939.3 1286.1,940.3 1285.6,941.2 1284.9,942.1 1284.3,943.0 1283.6,943.8 1283.0,944.6 1282.3,945.3 1281.4,946.1 1280.5,946.8 1279.7,947.4 1278.8,948.0 1277.9,948.5 1276.9,948.9 1276.0,949.4 1275.0,949.8 1273.9,950.3 1272.7,950.8 1271.9,951.2 1271.0,951.6 1270.1,951.9 1269.1,952.3 1268.1,952.7 1267.0,953.0 1265.9,953.3 1264.8,953.5 1263.8,954.1 1263.0,954.9 1262.2,955.7 1261.4,956.3 1260.6,957.0 1259.9,957.6 1259.2,958.1 1258.5,958.6 1257.3,959.4 1256.0,960.1 1254.9,960.6 1253.9,961.1 1253.1,961.5 1252.6,961.8 1252.3,962.1 1252.2,962.3 1252.2,962.5 1252.4,963.0 1252.9,963.8 1253.6,964.6 1254.4,965.6 1255.1,966.6 1255.6,967.6 1256.1,968.8 1256.5,970.0 1256.8,971.1 1257.0,972.3 1257.1,973.4 1256.9,974.4 1256.3,975.3 1256.6,976.3 1256.6,977.3 1256.3,978.4 1255.9,979.4 1255.3,980.3 1254.6,981.0 1253.8,981.7 1252.9,982.3 1251.9,982.9 1250.8,983.3 1249.5,983.7 1248.2,984.1 1247.2,984.2 1246.2,984.3 1245.2,984.4 1244.1,984.5 1242.9,984.5 1241.7,984.5 1240.5,984.4 1239.4,984.2 1238.2,984.0 1237.1,983.7 1236.1,983.4 1235.1,983.0 1234.2,982.4 1233.4,981.9 1232.5,981.2 1231.8,980.3 1230.8,980.2 1229.7,980.0 1228.7,979.6 1227.7,979.3 1226.7,978.9 1225.7,978.5 1224.7,978.0 1223.8,977.5 1222.8,977.0 1221.9,976.5 1220.9,975.9 1220.0,975.2 1219.1,974.6 1218.3,974.0 1217.5,973.3 1216.7,972.7 1216.0,972.1 1215.1,971.3 1214.4,970.4 1213.7,969.6 1213.2,968.8 1212.6,968.0 1212.0,967.2 1211.4,966.5 1210.6,965.9 1209.7,965.2 1208.8,964.7 1207.9,964.3 1206.8,964.8 1205.8,965.2 1204.7,965.5 1203.6,965.8 1202.5,966.1 1201.4,966.3 1200.3,966.5 1199.1,966.6 1198.0,966.6 1196.9,966.5 1195.9,966.3 1194.9,966.1 1193.8,965.9 1192.9,965.6 1191.9,965.2 1190.9,964.8 1190.0,964.4 1189.1,963.8 1188.3,963.1 1187.4,962.8 1186.3,962.8 1185.3,962.6 1184.3,962.4 1183.3,962.0 1182.3,961.6 1181.2,961.1 1180.2,960.6 1179.3,960.0 1178.3,959.4 1177.5,958.8 1176.6,958.1 1175.8,957.5 1175.1,957.0 1174.4,956.4 1173.4,955.5 1172.6,954.6 1172.0,953.8 1171.5,953.1 1171.0,952.5 1170.4,952.0 1169.5,951.5 1168.7,951.3 1167.9,951.0 1166.9,950.8 1165.9,950.6 1164.8,950.4 1163.7,950.0 1162.6,950.7 1161.4,951.2 1160.3,951.6 1159.1,952.0 1157.9,952.4 1157.0,952.6 1156.1,952.9 1155.2,953.2 1154.2,953.4 1153.2,953.7 1152.2,953.9 1151.2,954.1 1150.2,954.4 1149.1,954.6 1148.1,954.8 1147.1,955.0 1146.1,955.2 1145.1,955.3 1144.1,955.5 1143.2,955.6 1142.3,955.7 1141.1,955.9 1140.0,956.0 1139.0,956.1 1137.9,956.1 1136.9,956.2 1135.9,956.2 1134.9,956.2 1133.9,956.1 1133.1,956.9 1132.3,957.4 1131.4,958.0 1130.5,958.5 1129.6,959.0 1128.7,959.6 1127.8,960.1 1126.8,960.6 1125.9,961.2 1124.9,961.7 1124.0,962.1 1123.0,962.6 1121.9,963.0 1120.9,963.3 1119.9,963.6 1118.8,963.8 1117.7,963.9 1116.6,964.0 1115.6,964.0 1114.5,964.0 1113.5,963.9 1112.5,963.7 1111.4,963.4 1110.4,962.9 1109.3,963.3 1108.1,963.5 1106.9,963.7 1106.0,963.7 1105.0,963.7 1104.1,963.7 1103.0,963.6 1102.0,963.5 1100.9,963.3 1099.9,963.2 1098.8,963.0 1097.7,962.7 1096.7,962.5 1095.6,962.2 1094.6,961.9 1093.6,961.6 1092.7,961.3 1091.8,960.9 1090.9,960.6 1089.8,960.2 1088.7,959.8 1087.7,959.3 1086.7,958.9 1085.7,958.4 1084.7,957.9 1083.8,957.4 1083.0,956.8 1082.2,956.1 1081.6,955.3 1080.6,955.1 1079.6,954.9 1078.6,954.4 1077.6,953.8 1076.7,953.0 1075.9,952.2 1075.2,951.3 1074.5,950.4 1073.8,949.4 1073.2,948.5 1072.7,947.7 1072.2,947.0 1071.7,946.3 1070.9,945.3 1070.2,944.5 1069.6,943.8 1068.9,943.1 1068.2,942.4 1067.3,941.5 1066.4,940.4 1065.7,939.7 1064.7,939.6 1063.7,939.5 1062.7,939.3 1061.6,939.0 1060.5,938.8 1059.4,938.5 1058.3,938.2 1057.2,937.9 1056.2,937.5 1055.1,937.2 1054.1,936.8 1053.1,936.3 1052.1,935.9 1051.2,935.4 1050.2,934.9 1049.2,934.4 1048.3,933.9 1047.3,933.4 1046.4,932.8 1045.5,932.2 1044.7,931.6 1043.9,930.9 1043.1,930.3 1042.3,929.5 1041.6,928.7 1040.9,927.8 1040.2,926.9 1039.7,925.9 1039.3,924.8 1038.2,924.3 1037.3,923.7 1036.4,923.0 1035.6,922.3 1034.9,921.6 1034.2,920.8 1033.6,919.8 1033.0,918.8 1032.6,917.7 1032.3,916.7 1032.1,915.7 1031.8,914.8 1031.6,914.0 1031.2,913.2 1030.8,912.6 1030.3,912.0 1029.6,911.5 1028.8,911.0 1027.8,910.4 1026.8,909.9 1025.8,909.2 1024.9,908.5 1024.1,907.6 1023.6,906.5 1022.8,906.1 1021.9,905.7 1021.1,905.1 1020.3,904.5 1019.5,903.8 1018.8,903.1 1018.1,902.3 1017.4,901.4 1016.8,900.5 1016.3,899.5 1015.8,898.4 1015.4,897.3 1015.1,896.4 1014.9,895.4 1014.7,894.4 1014.6,893.4 1014.6,892.4 1014.6,891.3 1014.6,890.3 1014.7,889.2 1014.8,888.1 1014.9,887.0 1015.1,885.9 1015.3,884.8 1015.6,883.6 1015.9,882.5 1016.3,881.3 1016.3,880.4 1015.9,879.4 1015.7,878.3 1015.5,877.3 1015.3,876.2 1015.2,875.1 1015.1,874.0 1015.1,872.8 1015.0,871.7 1015.1,870.6 1015.1,869.5 1015.2,868.4 1015.4,867.4 1015.5,866.3 1015.7,865.4 1015.9,864.4 1016.1,863.5 1016.3,862.7 1016.6,861.9 1017.1,860.6 1017.6,859.5 1018.1,858.7 1018.6,858.0 1018.4,857.2 1018.4,856.3 1018.4,855.4 1018.6,854.3 1018.8,852.9 1018.9,852.1 1019.1,851.3 1019.4,850.4 1019.6,849.5 1019.9,848.5 1020.3,847.5 1020.6,846.5 1021.1,845.5 1021.5,844.5 1022.0,843.5 1022.5,842.6 1023.0,841.6 1023.6,840.7 1024.2,839.7 1024.8,838.9 1025.4,838.0 1026.0,837.3 1026.7,836.6 1027.1,835.5 1027.2,834.3 1027.3,833.2 1027.5,832.2 1027.8,831.2 1028.0,830.2 1028.3,829.3 1028.6,828.3 1029.0,827.4 1029.3,826.5 1029.7,825.7 1030.1,824.8 1030.6,823.9 1031.1,823.1 1031.6,822.1 1032.2,821.2 1032.8,820.3 1033.4,819.4 1034.1,818.6 1034.8,817.8 1035.5,817.0 1036.3,816.3 1037.2,815.6 1038.3,815.0 1038.4,813.7 1038.8,812.6 1039.3,811.7 1039.8,810.7 1040.3,809.8 1040.9,808.9 1041.6,808.0 1042.3,807.1 1043.0,806.2 1043.7,805.4 1044.5,804.6 1045.3,803.8 1046.0,803.1 1046.8,802.4 1047.6,801.7 1048.3,801.1 1049.3,800.4 1050.2,799.8 1051.2,799.1 1052.1,798.6 1053.1,798.1 1054.2,797.8 1054.6,796.8 1055.1,795.9 1055.7,795.1 1056.3,794.3 1057.0,793.6 1057.9,792.8 1058.8,792.1 1059.8,791.5 1060.7,791.0 1061.7,790.6 1062.7,790.2 1063.6,789.8 1064.5,789.5 1065.4,789.1 1066.4,788.7 1067.3,788.2 1068.2,787.8 1069.2,787.5 1070.3,787.1 1071.6,786.9 1072.7,786.0 1073.3,785.4 1074.0,784.7 1074.7,784.1 1075.5,783.5 1076.3,782.8 1077.2,782.2 1078.1,781.6 1079.0,781.0 1080.0,780.4 1080.9,779.9 1081.9,779.3 1082.8,778.9 1083.8,778.4 1084.7,778.0 1085.8,777.6 1086.8,777.2 1087.9,776.8 1089.0,776.5 1090.2,776.2 1091.3,775.9 1092.4,775.7 1093.6,775.5 1094.8,775.5 1095.5,774.7 1096.3,774.0 1097.0,773.4 1097.7,772.9 1098.9,772.0 1099.9,771.3 1100.8,770.6 1101.6,770.0 1102.4,769.4 1103.2,768.8 1103.9,768.1 1104.5,767.4 1105.1,766.7 1105.7,766.0 1106.3,765.2 1106.9,764.4 1107.5,763.6 1108.3,762.8 1109.0,762.0 1109.9,761.3 1110.7,760.7 1111.4,760.1 1112.3,759.6 1113.1,759.0 1114.0,758.5 1114.9,758.1 1115.9,757.6 1117.0,757.2 1118.0,756.9 1119.2,756.8 1120.0,756.4 1120.8,755.7 1121.6,755.1 1122.5,754.6 1123.4,754.0 1124.3,753.5 1125.3,753.1 1126.3,752.7 1127.3,752.2 1128.3,751.9 1129.3,751.5 1130.3,751.2 1131.3,750.9 1132.2,750.6 1133.2,750.3 1134.1,750.0 1135.1,749.8 1136.0,749.6 1136.9,749.4 1137.9,749.2 1138.9,749.1 1139.9,748.9 1140.9,748.8 1142.0,748.7 1143.1,748.7 1144.3,748.7 1145.2,748.8 1146.2,749.0 1147.0,748.5 1147.8,748.0 1148.6,747.5 1149.5,747.1 1150.4,746.7 1151.3,746.3 1152.2,745.9 1153.2,745.6 1154.2,745.3 1155.2,745.0 1156.3,744.8 1157.4,744.6 1158.6,744.4 1159.7,744.3Z" fill="#777"/>
<clipPath id="bc"><path d="M1161.0,746.4 1161.9,745.7 1162.8,745.4 1163.7,745.1 1164.7,744.9 1165.7,744.7 1166.8,744.6 1167.8,744.5 1168.9,744.4 1170.0,744.4 1171.1,744.5 1172.2,744.6 1173.3,744.7 1174.4,744.9 1175.4,745.1 1176.5,745.3 1177.6,745.6 1178.6,746.0 1179.6,746.3 1180.6,746.8 1181.5,747.4 1182.5,747.2 1183.5,747.0 1184.5,746.9 1185.3,746.8 1186.6,746.7 1187.8,746.7 1189.0,746.8 1190.1,746.9 1191.1,747.0 1192.1,747.2 1193.1,747.5 1194.0,747.7 1194.9,748.0 1195.9,748.4 1196.8,748.8 1197.7,749.2 1198.6,749.7 1199.6,750.2 1200.5,750.8 1201.5,751.6 1202.2,752.4 1203.1,752.4 1204.2,752.4 1205.2,752.5 1206.2,752.7 1207.2,752.9 1208.2,753.1 1209.2,753.4 1210.2,753.7 1211.2,754.0 1212.2,754.3 1213.2,754.7 1214.2,755.1 1215.2,755.5 1216.1,755.9 1217.1,756.3 1218.0,756.7 1218.9,757.2 1219.8,757.6 1220.6,758.1 1221.4,758.6 1222.4,759.1 1223.3,759.7 1224.2,760.3 1225.1,760.9 1225.9,761.6 1226.8,762.3 1227.6,763.1 1228.4,763.7 1229.5,763.8 1230.5,764.0 1231.5,764.3 1232.5,764.5 1233.4,764.8 1234.3,765.2 1235.2,765.5 1236.1,765.8 1237.0,766.2 1237.8,766.5 1238.9,767.0 1239.9,767.4 1240.8,767.9 1241.7,768.3 1242.6,768.8 1243.5,769.2 1244.3,769.7 1245.2,770.2 1246.0,770.7 1246.9,771.3 1247.7,771.9 1248.6,772.5 1249.5,773.2 1250.4,774.0 1251.1,774.7 1251.8,775.5 1252.6,776.1 1253.8,776.2 1254.8,776.5 1255.9,776.8 1257.0,777.1 1258.1,777.5 1259.1,777.9 1260.1,778.4 1261.2,778.8 1262.2,779.4 1263.1,779.9 1264.0,780.5 1264.9,781.0 1265.8,781.6 1266.6,782.3 1267.3,782.9 1268.1,783.7 1268.9,784.5 1269.6,785.4 1270.2,786.2 1270.7,787.0 1271.2,787.9 1271.6,788.8 1272.0,789.7 1272.3,790.7 1272.6,791.7 1273.6,792.2 1274.4,792.8 1275.3,793.4 1276.1,794.1 1276.9,794.8 1277.6,795.4 1278.3,796.0 1279.1,796.7 1279.8,797.3 1280.5,798.0 1281.2,798.7 1281.9,799.4 1282.6,800.2 1283.3,800.9 1283.9,801.7 1284.6,802.6 1285.2,803.4 1285.8,804.3 1286.4,805.2 1286.9,806.1 1287.5,807.0 1288.0,808.0 1288.4,809.0 1288.7,810.0 1288.9,811.1 1290.0,811.5 1290.9,812.2 1291.7,812.8 1292.5,813.5 1293.3,814.3 1294.0,815.0 1294.7,815.8 1295.4,816.6 1296.1,817.5 1296.7,818.3 1297.4,819.2 1298.0,820.1 1298.5,821.0 1299.0,822.0 1299.5,823.0 1300.0,824.0 1300.4,824.9 1300.7,825.8 1301.0,826.8 1301.3,827.7 1301.6,828.7 1301.8,829.7 1301.9,830.7 1301.8,831.9 1302.6,832.6 1303.3,833.4 1303.9,834.2 1304.5,835.1 1305.0,836.0 1305.5,836.9 1306.0,837.8 1306.5,838.7 1306.9,839.7 1307.4,840.6 1307.7,841.6 1308.1,842.6 1308.4,843.6 1308.8,844.5 1309.0,845.5 1309.3,846.5 1309.5,847.6 1309.8,848.6 1310.0,849.7 1310.1,850.8 1310.3,851.9 1310.4,853.0 1310.5,854.1 1310.5,855.2 1310.4,856.3 1310.2,857.4 1310.7,858.4 1311.2,859.4 1311.7,860.3 1312.1,861.3 1312.4,862.3 1312.7,863.2 1313.0,864.1 1313.2,865.0 1313.4,865.9 1313.6,867.1 1313.7,868.3 1313.8,869.4 1313.8,870.5 1313.8,871.6 1313.8,872.7 1313.7,873.8 1313.6,874.8 1313.4,875.8 1313.2,876.8 1312.9,877.7 1312.6,878.6 1312.3,879.5 1311.9,880.4 1311.5,881.2 1311.0,882.0 1310.4,882.9 1309.6,883.7 1308.9,884.5 1308.7,885.6 1308.3,886.6 1307.8,887.6 1307.3,888.6 1306.7,889.5 1306.1,890.4 1305.5,891.2 1304.9,892.0 1304.3,892.8 1303.7,893.6 1303.0,894.5 1302.1,895.4 1301.3,896.1 1300.4,896.8 1299.6,897.4 1298.8,898.0 1298.1,898.6 1297.4,899.2 1296.8,899.8 1296.2,900.5 1295.7,901.3 1295.4,902.0 1295.1,902.8 1294.9,903.7 1294.7,904.7 1294.5,905.7 1294.3,906.8 1294.0,907.9 1293.8,909.0 1293.6,910.1 1294.0,911.1 1294.4,912.2 1294.6,913.2 1294.8,914.1 1294.9,915.0 1295.0,916.2 1295.1,917.3 1295.1,918.4 1295.2,919.4 1295.1,920.4 1295.1,921.3 1295.0,922.3 1294.9,923.3 1294.8,924.2 1294.6,925.2 1294.3,926.2 1294.1,927.1 1293.8,928.1 1293.5,929.0 1293.2,930.0 1292.8,930.9 1292.3,931.9 1291.8,932.8 1291.1,933.7 1290.4,934.6 1289.7,935.2 1289.0,935.9 1288.2,936.5 1287.5,937.3 1287.1,938.3 1286.7,939.3 1286.1,940.3 1285.6,941.2 1284.9,942.1 1284.3,943.0 1283.6,943.8 1283.0,944.6 1282.3,945.3 1281.4,946.1 1280.5,946.8 1279.7,947.4 1278.8,948.0 1277.9,948.5 1276.9,948.9 1276.0,949.4 1275.0,949.8 1273.9,950.3 1272.7,950.8 1271.9,951.2 1271.0,951.6 1270.1,951.9 1269.1,952.3 1268.1,952.7 1267.0,953.0 1265.9,953.3 1264.8,953.5 1263.8,954.1 1263.0,954.9 1262.2,955.7 1261.4,956.3 1260.6,957.0 1259.9,957.6 1259.2,958.1 1258.5,958.6 1257.3,959.4 1256.0,960.1 1254.9,960.6 1253.9,961.1 1253.1,961.5 1252.6,961.8 1252.3,962.1 1252.2,962.3 1252.2,962.5 1252.4,963.0 1252.9,963.8 1253.6,964.6 1254.4,965.6 1255.1,966.6 1255.6,967.6 1256.1,968.8 1256.5,970.0 1256.8,971.1 1257.0,972.3 1257.1,973.4 1256.9,974.4 1256.3,975.3 1256.6,976.3 1256.6,977.3 1256.3,978.4 1255.9,979.4 1255.3,980.3 1254.6,981.0 1253.8,981.7 1252.9,982.3 1251.9,982.9 1250.8,983.3 1249.5,983.7 1248.2,984.1 1247.2,984.2 1246.2,984.3 1245.2,984.4 1244.1,984.5 1242.9,984.5 1241.7,984.5 1240.5,984.4 1239.4,984.2 1238.2,984.0 1237.1,983.7 1236.1,983.4 1235.1,983.0 1234.2,982.4 1233.4,981.9 1232.5,981.2 1231.8,980.3 1230.8,980.2 1229.7,980.0 1228.7,979.6 1227.7,979.3 1226.7,978.9 1225.7,978.5 1224.7,978.0 1223.8,977.5 1222.8,977.0 1221.9,976.5 1220.9,975.9 1220.0,975.2 1219.1,974.6 1218.3,974.0 1217.5,973.3 1216.7,972.7 1216.0,972.1 1215.1,971.3 1214.4,970.4 1213.7,969.6 1213.2,968.8 1212.6,968.0 1212.0,967.2 1211.4,966.5 1210.6,965.9 1209.7,965.2 1208.8,964.7 1207.9,964.3 1206.8,964.8 1205.8,965.2 1204.7,965.5 1203.6,965.8 1202.5,966.1 1201.4,966.3 1200.3,966.5 1199.1,966.6 1198.0,966.6 1196.9,966.5 1195.9,966.3 1194.9,966.1 1193.8,965.9 1192.9,965.6 1191.9,965.2 1190.9,964.8 1190.0,964.4 1189.1,963.8 1188.3,963.1 1187.4,962.8 1186.3,962.8 1185.3,962.6 1184.3,962.4 1183.3,962.0 1182.3,961.6 1181.2,961.1 1180.2,960.6 1179.3,960.0 1178.3,959.4 1177.5,958.8 1176.6,958.1 1175.8,957.5 1175.1,957.0 1174.4,956.4 1173.4,955.5 1172.6,954.6 1172.0,953.8 1171.5,953.1 1171.0,952.5 1170.4,952.0 1169.5,951.5 1168.7,951.3 1167.9,951.0 1166.9,950.8 1165.9,950.6 1164.8,950.4 1163.7,950.0 1162.6,950.7 1161.4,951.2 1160.3,951.6 1159.1,952.0 1157.9,952.4 1157.0,952.6 1156.1,952.9 1155.2,953.2 1154.2,953.4 1153.2,953.7 1152.2,953.9 1151.2,954.1 1150.2,954.4 1149.1,954.6 1148.1,954.8 1147.1,955.0 1146.1,955.2 1145.1,955.3 1144.1,955.5 1143.2,955.6 1142.3,955.7 1141.1,955.9 1140.0,956.0 1139.0,956.1 1137.9,956.1 1136.9,956.2 1135.9,956.2 1134.9,956.2 1133.9,956.1 1133.1,956.9 1132.3,957.4 1131.4,958.0 1130.5,958.5 1129.6,959.0 1128.7,959.6 1127.8,960.1 1126.8,960.6 1125.9,961.2 1124.9,961.7 1124.0,962.1 1123.0,962.6 1121.9,963.0 1120.9,963.3 1119.9,963.6 1118.8,963.8 1117.7,963.9 1116.6,964.0 1115.6,964.0 1114.5,964.0 1113.5,963.9 1112.5,963.7 1111.4,963.4 1110.4,962.9 1109.3,963.3 1108.1,963.5 1106.9,963.7 1106.0,963.7 1105.0,963.7 1104.1,963.7 1103.0,963.6 1102.0,963.5 1100.9,963.3 1099.9,963.2 1098.8,963.0 1097.7,962.7 1096.7,962.5 1095.6,962.2 1094.6,961.9 1093.6,961.6 1092.7,961.3 1091.8,960.9 1090.9,960.6 1089.8,960.2 1088.7,959.8 1087.7,959.3 1086.7,958.9 1085.7,958.4 1084.7,957.9 1083.8,957.4 1083.0,956.8 1082.2,956.1 1081.6,955.3 1080.6,955.1 1079.6,954.9 1078.6,954.4 1077.6,953.8 1076.7,953.0 1075.9,952.2 1075.2,951.3 1074.5,950.4 1073.8,949.4 1073.2,948.5 1072.7,947.7 1072.2,947.0 1071.7,946.3 1070.9,945.3 1070.2,944.5 1069.6,943.8 1068.9,943.1 1068.2,942.4 1067.3,941.5 1066.4,940.4 1065.7,939.7 1064.7,939.6 1063.7,939.5 1062.7,939.3 1061.6,939.0 1060.5,938.8 1059.4,938.5 1058.3,938.2 1057.2,937.9 1056.2,937.5 1055.1,937.2 1054.1,936.8 1053.1,936.3 1052.1,935.9 1051.2,935.4 1050.2,934.9 1049.2,934.4 1048.3,933.9 1047.3,933.4 1046.4,932.8 1045.5,932.2 1044.7,931.6 1043.9,930.9 1043.1,930.3 1042.3,929.5 1041.6,928.7 1040.9,927.8 1040.2,926.9 1039.7,925.9 1039.3,924.8 1038.2,924.3 1037.3,923.7 1036.4,923.0 1035.6,922.3 1034.9,921.6 1034.2,920.8 1033.6,919.8 1033.0,918.8 1032.6,917.7 1032.3,916.7 1032.1,915.7 1031.8,914.8 1031.6,914.0 1031.2,913.2 1030.8,912.6 1030.3,912.0 1029.6,911.5 1028.8,911.0 1027.8,910.4 1026.8,909.9 1025.8,909.2 1024.9,908.5 1024.1,907.6 1023.6,906.5 1022.8,906.1 1021.9,905.7 1021.1,905.1 1020.3,904.5 1019.5,903.8 1018.8,903.1 1018.1,902.3 1017.4,901.4 1016.8,900.5 1016.3,899.5 1015.8,898.4 1015.4,897.3 1015.1,896.4 1014.9,895.4 1014.7,894.4 1014.6,893.4 1014.6,892.4 1014.6,891.3 1014.6,890.3 1014.7,889.2 1014.8,888.1 1014.9,887.0 1015.1,885.9 1015.3,884.8 1015.6,883.6 1015.9,882.5 1016.3,881.3 1016.3,880.4 1015.9,879.4 1015.7,878.3 1015.5,877.3 1015.3,876.2 1015.2,875.1 1015.1,874.0 1015.1,872.8 1015.0,871.7 1015.1,870.6 1015.1,869.5 1015.2,868.4 1015.4,867.4 1015.5,866.3 1015.7,865.4 1015.9,864.4 1016.1,863.5 1016.3,862.7 1016.6,861.9 1017.1,860.6 1017.6,859.5 1018.1,858.7 1018.6,858.0 1018.4,857.2 1018.4,856.3 1018.4,855.4 1018.6,854.3 1018.8,852.9 1018.9,852.1 1019.1,851.3 1019.4,850.4 1019.6,849.5 1019.9,848.5 1020.3,847.5 1020.6,846.5 1021.1,845.5 1021.5,844.5 1022.0,843.5 1022.5,842.6 1023.0,841.6 1023.6,840.7 1024.2,839.7 1024.8,838.9 1025.4,838.0 1026.0,837.3 1026.7,836.6 1027.1,835.5 1027.2,834.3 1027.3,833.2 1027.5,832.2 1027.8,831.2 1028.0,830.2 1028.3,829.3 1028.6,828.3 1029.0,827.4 1029.3,826.5 1029.7,825.7 1030.1,824.8 1030.6,823.9 1031.1,823.1 1031.6,822.1 1032.2,821.2 1032.8,820.3 1033.4,819.4 1034.1,818.6 1034.8,817.8 1035.5,817.0 1036.3,816.3 1037.2,815.6 1038.3,815.0 1038.4,813.7 1038.8,812.6 1039.3,811.7 1039.8,810.7 1040.3,809.8 1040.9,808.9 1041.6,808.0 1042.3,807.1 1043.0,806.2 1043.7,805.4 1044.5,804.6 1045.3,803.8 1046.0,803.1 1046.8,802.4 1047.6,801.7 1048.3,801.1 1049.3,800.4 1050.2,799.8 1051.2,799.1 1052.1,798.6 1053.1,798.1 1054.2,797.8 1054.6,796.8 1055.1,795.9 1055.7,795.1 1056.3,794.3 1057.0,793.6 1057.9,792.8 1058.8,792.1 1059.8,791.5 1060.7,791.0 1061.7,790.6 1062.7,790.2 1063.6,789.8 1064.5,789.5 1065.4,789.1 1066.4,788.7 1067.3,788.2 1068.2,787.8 1069.2,787.5 1070.3,787.1 1071.6,786.9 1072.7,786.0 1073.3,785.4 1074.0,784.7 1074.7,784.1 1075.5,783.5 1076.3,782.8 1077.2,782.2 1078.1,781.6 1079.0,781.0 1080.0,780.4 1080.9,779.9 1081.9,779.3 1082.8,778.9 1083.8,778.4 1084.7,778.0 1085.8,777.6 1086.8,777.2 1087.9,776.8 1089.0,776.5 1090.2,776.2 1091.3,775.9 1092.4,775.7 1093.6,775.5 1094.8,775.5 1095.5,774.7 1096.3,774.0 1097.0,773.4 1097.7,772.9 1098.9,772.0 1099.9,771.3 1100.8,770.6 1101.6,770.0 1102.4,769.4 1103.2,768.8 1103.9,768.1 1104.5,767.4 1105.1,766.7 1105.7,766.0 1106.3,765.2 1106.9,764.4 1107.5,763.6 1108.3,762.8 1109.0,762.0 1109.9,761.3 1110.7,760.7 1111.4,760.1 1112.3,759.6 1113.1,759.0 1114.0,758.5 1114.9,758.1 1115.9,757.6 1117.0,757.2 1118.0,756.9 1119.2,756.8 1120.0,756.4 1120.8,755.7 1121.6,755.1 1122.5,754.6 1123.4,754.0 1124.3,753.5 1125.3,753.1 1126.3,752.7 1127.3,752.2 1128.3,751.9 1129.3,751.5 1130.3,751.2 1131.3,750.9 1132.2,750.6 1133.2,750.3 1134.1,750.0 1135.1,749.8 1136.0,749.6 1136.9,749.4 1137.9,749.2 1138.9,749.1 1139.9,748.9 1140.9,748.8 1142.0,748.7 1143.1,748.7 1144.3,748.7 1145.2,748.8 1146.2,749.0 1147.0,748.5 1147.8,748.0 1148.6,747.5 1149.5,747.1 1150.4,746.7 1151.3,746.3 1152.2,745.9 1153.2,745.6 1154.2,745.3 1155.2,745.0 1156.3,744.8 1157.4,744.6 1158.6,744.4 1159.7,744.3Z"/></clipPath>
<g clip-path="url(#bc)">
<path d="M1161.0,746.4 1161.9,745.7 1162.8,745.4 1163.7,745.1 1164.7,744.9 1165.7,744.7 1166.8,744.6 1167.8,744.5 1168.9,744.4 1170.0,744.4 1171.1,744.5 1172.2,744.6 1173.3,744.7 1174.4,744.9 1175.4,745.1 1176.5,745.3 1177.6,745.6 1178.6,746.0 1179.6,746.3 1180.6,746.8 1181.5,747.4 1182.5,747.2 1183.5,747.0 1184.5,746.9 1185.3,746.8 1186.6,746.7 1187.8,746.7 1189.0,746.8 1190.1,746.9 1191.1,747.0 1192.1,747.2 1193.1,747.5 1194.0,747.7 1194.9,748.0 1195.9,748.4 1196.8,748.8 1197.7,749.2 1198.6,749.7 1199.6,750.2 1200.5,750.8 1201.5,751.6 1202.2,752.4 1203.1,752.4 1204.2,752.4 1205.2,752.5 1206.2,752.7 1207.2,752.9 1208.2,753.1 1209.2,753.4 1210.2,753.7 1211.2,754.0 1212.2,754.3 1213.2,754.7 1214.2,755.1 1215.2,755.5 1216.1,755.9 1217.1,756.3 1218.0,756.7 1218.9,757.2 1219.8,757.6 1220.6,758.1 1221.4,758.6 1222.4,759.1 1223.3,759.7 1224.2,760.3 1225.1,760.9 1225.9,761.6 1226.8,762.3 1227.6,763.1 1228.4,763.7 1229.5,763.8 1230.5,764.0 1231.5,764.3 1232.5,764.5 1233.4,764.8 1234.3,765.2 1235.2,765.5 1236.1,765.8 1237.0,766.2 1237.8,766.5 1238.9,767.0 1239.9,767.4 1240.8,767.9 1241.7,768.3 1242.6,768.8 1243.5,769.2 1244.3,769.7 1245.2,770.2 1246.0,770.7 1246.9,771.3 1247.7,771.9 1248.6,772.5 1249.5,773.2 1250.4,774.0 1251.1,774.7 1251.8,775.5 1252.6,776.1 1253.8,776.2 1254.8,776.5 1255.9,776.8 1257.0,777.1 1258.1,777.5 1259.1,777.9 1260.1,778.4 1261.2,778.8 1262.2,779.4 1263.1,779.9 1264.0,780.5 1264.9,781.0 1265.8,781.6 1266.6,782.3 1267.3,782.9 1268.1,783.7 1268.9,784.5 1269.6,785.4 1270.2,786.2 1270.7,787.0 1271.2,787.9 1271.6,788.8 1272.0,789.7 1272.3,790.7 1272.6,791.7 1273.6,792.2 1274.4,792.8 1275.3,793.4 1276.1,794.1 1276.9,794.8 1277.6,795.4 1278.3,796.0 1279.1,796.7 1279.8,797.3 1280.5,798.0 1281.2,798.7 1281.9,799.4 1282.6,800.2 1283.3,800.9 1283.9,801.7 1284.6,802.6 1285.2,803.4 1285.8,804.3 1286.4,805.2 1286.9,806.1 1287.5,807.0 1288.0,808.0 1288.4,809.0 1288.7,810.0 1288.9,811.1 1290.0,811.5 1290.9,812.2 1291.7,812.8 1292.5,813.5 1293.3,814.3 1294.0,815.0 1294.7,815.8 1295.4,816.6 1296.1,817.5 1296.7,818.3 1297.4,819.2 1298.0,820.1 1298.5,821.0 1299.0,822.0 1299.5,823.0 1300.0,824.0 1300.4,824.9 1300.7,825.8 1301.0,826.8 1301.3,827.7 1301.6,828.7 1301.8,829.7 1301.9,830.7 1301.8,831.9 1302.6,832.6 1303.3,833.4 1303.9,834.2 1304.5,835.1 1305.0,836.0 1305.5,836.9 1306.0,837.8 1306.5,838.7 1306.9,839.7 1307.4,840.6 1307.7,841.6 1308.1,842.6 1308.4,843.6 1308.8,844.5 1309.0,845.5 1309.3,846.5 1309.5,847.6 1309.8,848.6 1310.0,849.7 1310.1,850.8 1310.3,851.9 1310.4,853.0 1310.5,854.1 1310.5,855.2 1310.4,856.3 1310.2,857.4 1310.7,858.4 1311.2,859.4 1311.7,860.3 1312.1,861.3 1312.4,862.3 1312.7,863.2 1313.0,864.1 1313.2,865.0 1313.4,865.9 1313.6,867.1 1313.7,868.3 1313.8,869.4 1313.8,870.5 1313.8,871.6 1313.8,872.7 1313.7,873.8 1313.6,874.8 1313.4,875.8 1313.2,876.8 1312.9,877.7 1312.6,878.6 1312.3,879.5 1311.9,880.4 1311.5,881.2 1311.0,882.0 1310.4,882.9 1309.6,883.7 1308.9,884.5 1308.7,885.6 1308.3,886.6 1307.8,887.6 1307.3,888.6 1306.7,889.5 1306.1,890.4 1305.5,891.2 1304.9,892.0 1304.3,892.8 1303.7,893.6 1303.0,894.5 1302.1,895.4 1301.3,896.1 1300.4,896.8 1299.6,897.4 1298.8,898.0 1298.1,898.6 1297.4,899.2 1296.8,899.8 1296.2,900.5 1295.7,901.3 1295.4,902.0 1295.1,902.8 1294.9,903.7 1294.7,904.7 1294.5,905.7 1294.3,906.8 1294.0,907.9 1293.8,909.0 1293.6,910.1 1294.0,911.1 1294.4,912.2 1294.6,913.2 1294.8,914.1 1294.9,915.0 1295.0,916.2 1295.1,917.3 1295.1,918.4 1295.2,919.4 1295.1,920.4 1295.1,921.3 1295.0,922.3 1294.9,923.3 1294.8,924.2 1294.6,925.2 1294.3,926.2 1294.1,927.1 1293.8,928.1 1293.5,929.0 1293.2,930.0 1292.8,930.9 1292.3,931.9 1291.8,932.8 1291.1,933.7 1290.4,934.6 1289.7,935.2 1289.0,935.9 1288.2,936.5 1287.5,937.3 1287.1,938.3 1286.7,939.3 1286.1,940.3 1285.6,941.2 1284.9,942.1 1284.3,943.0 1283.6,943.8 1283.0,944.6 1282.3,945.3 1281.4,946.1 1280.5,946.8 1279.7,947.4 1278.8,948.0 1277.9,948.5 1276.9,948.9 1276.0,949.4 1275.0,949.8 1273.9,950.3 1272.7,950.8 1271.9,951.2 1271.0,951.6 1270.1,951.9 1269.1,952.3 1268.1,952.7 1267.0,953.0 1265.9,953.3 1264.8,953.5 1263.8,954.1 1263.0,954.9 1262.2,955.7 1261.4,956.3 1260.6,957.0 1259.9,957.6 1259.2,958.1 1258.5,958.6 1257.3,959.4 1256.0,960.1 1254.9,960.6 1253.9,961.1 1253.1,961.5 1252.6,961.8 1252.3,962.1 1252.2,962.3 1252.2,962.5 1252.4,963.0 1252.9,963.8 1253.6,964.6 1254.4,965.6 1255.1,966.6 1255.6,967.6 1256.1,968.8 1256.5,970.0 1256.8,971.1 1257.0,972.3 1257.1,973.4 1256.9,974.4 1256.3,975.3 1256.6,976.3 1256.6,977.3 1256.3,978.4 1255.9,979.4 1255.3,980.3 1254.6,981.0 1253.8,981.7 1252.9,982.3 1251.9,982.9 1250.8,983.3 1249.5,983.7 1248.2,984.1 1247.2,984.2 1246.2,984.3 1245.2,984.4 1244.1,984.5 1242.9,984.5 1241.7,984.5 1240.5,984.4 1239.4,984.2 1238.2,984.0 1237.1,983.7 1236.1,983.4 1235.1,983.0 1234.2,982.4 1233.4,981.9 1232.5,981.2 1231.8,980.3 1230.8,980.2 1229.7,980.0 1228.7,979.6 1227.7,979.3 1226.7,978.9 1225.7,978.5 1224.7,978.0 1223.8,977.5 1222.8,977.0 1221.9,976.5 1220.9,975.9 1220.0,975.2 1219.1,974.6 1218.3,974.0 1217.5,973.3 1216.7,972.7 1216.0,972.1 1215.1,971.3 1214.4,970.4 1213.7,969.6 1213.2,968.8 1212.6,968.0 1212.0,967.2 1211.4,966.5 1210.6,965.9 1209.7,965.2 1208.8,964.7 1207.9,964.3 1206.8,964.8 1205.8,965.2 1204.7,965.5 1203.6,965.8 1202.5,966.1 1201.4,966.3 1200.3,966.5 1199.1,966.6 1198.0,966.6 1196.9,966.5 1195.9,966.3 1194.9,966.1 1193.8,965.9 1192.9,965.6 1191.9,965.2 1190.9,964.8 1190.0,964.4 1189.1,963.8 1188.3,963.1 1187.4,962.8 1186.3,962.8 1185.3,962.6 1184.3,962.4 1183.3,962.0 1182.3,961.6 1181.2,961.1 1180.2,960.6 1179.3,960.0 1178.3,959.4 1177.5,958.8 1176.6,958.1 1175.8,957.5 1175.1,957.0 1174.4,956.4 1173.4,955.5 1172.6,954.6 1172.0,953.8 1171.5,953.1 1171.0,952.5 1170.4,952.0 1169.5,951.5 1168.7,951.3 1167.9,951.0 1166.9,950.8 1165.9,950.6 1164.8,950.4 1163.7,950.0 1162.6,950.7 1161.4,951.2 1160.3,951.6 1159.1,952.0 1157.9,952.4 1157.0,952.6 1156.1,952.9 1155.2,953.2 1154.2,953.4 1153.2,953.7 1152.2,953.9 1151.2,954.1 1150.2,954.4 1149.1,954.6 1148.1,954.8 1147.1,955.0 1146.1,955.2 1145.1,955.3 1144.1,955.5 1143.2,955.6 1142.3,955.7 1141.1,955.9 1140.0,956.0 1139.0,956.1 1137.9,956.1 1136.9,956.2 1135.9,956.2 1134.9,956.2 1133.9,956.1 1133.1,956.9 1132.3,957.4 1131.4,958.0 1130.5,958.5 1129.6,959.0 1128.7,959.6 1127.8,960.1 1126.8,960.6 1125.9,961.2 1124.9,961.7 1124.0,962.1 1123.0,962.6 1121.9,963.0 1120.9,963.3 1119.9,963.6 1118.8,963.8 1117.7,963.9 1116.6,964.0 1115.6,964.0 1114.5,964.0 1113.5,963.9 1112.5,963.7 1111.4,963.4 1110.4,962.9 1109.3,963.3 1108.1,963.5 1106.9,963.7 1106.0,963.7 1105.0,963.7 1104.1,963.7 1103.0,963.6 1102.0,963.5 1100.9,963.3 1099.9,963.2 1098.8,963.0 1097.7,962.7 1096.7,962.5 1095.6,962.2 1094.6,961.9 1093.6,961.6 1092.7,961.3 1091.8,960.9 1090.9,960.6 1089.8,960.2 1088.7,959.8 1087.7,959.3 1086.7,958.9 1085.7,958.4 1084.7,957.9 1083.8,957.4 1083.0,956.8 1082.2,956.1 1081.6,955.3 1080.6,955.1 1079.6,954.9 1078.6,954.4 1077.6,953.8 1076.7,953.0 1075.9,952.2 1075.2,951.3 1074.5,950.4 1073.8,949.4 1073.2,948.5 1072.7,947.7 1072.2,947.0 1071.7,946.3 1070.9,945.3 1070.2,944.5 1069.6,943.8 1068.9,943.1 1068.2,942.4 1067.3,941.5 1066.4,940.4 1065.7,939.7 1064.7,939.6 1063.7,939.5 1062.7,939.3 1061.6,939.0 1060.5,938.8 1059.4,938.5 1058.3,938.2 1057.2,937.9 1056.2,937.5 1055.1,937.2 1054.1,936.8 1053.1,936.3 1052.1,935.9 1051.2,935.4 1050.2,934.9 1049.2,934.4 1048.3,933.9 1047.3,933.4 1046.4,932.8 1045.5,932.2 1044.7,931.6 1043.9,930.9 1043.1,930.3 1042.3,929.5 1041.6,928.7 1040.9,927.8 1040.2,926.9 1039.7,925.9 1039.3,924.8 1038.2,924.3 1037.3,923.7 1036.4,923.0 1035.6,922.3 1034.9,921.6 1034.2,920.8 1033.6,919.8 1033.0,918.8 1032.6,917.7 1032.3,916.7 1032.1,915.7 1031.8,914.8 1031.6,914.0 1031.2,913.2 1030.8,912.6 1030.3,912.0 1029.6,911.5 1028.8,911.0 1027.8,910.4 1026.8,909.9 1025.8,909.2 1024.9,908.5 1024.1,907.6 1023.6,906.5 1022.8,906.1 1021.9,905.7 1021.1,905.1 1020.3,904.5 1019.5,903.8 1018.8,903.1 1018.1,902.3 1017.4,901.4 1016.8,900.5 1016.3,899.5 1015.8,898.4 1015.4,897.3 1015.1,896.4 1014.9,895.4 1014.7,894.4 1014.6,893.4 1014.6,892.4 1014.6,891.3 1014.6,890.3 1014.7,889.2 1014.8,888.1 1014.9,887.0 1015.1,885.9 1015.3,884.8 1015.6,883.6 1015.9,882.5 1016.3,881.3 1016.3,880.4 1015.9,879.4 1015.7,878.3 1015.5,877.3 1015.3,876.2 1015.2,875.1 1015.1,874.0 1015.1,872.8 1015.0,871.7 1015.1,870.6 1015.1,869.5 1015.2,868.4 1015.4,867.4 1015.5,866.3 1015.7,865.4 1015.9,864.4 1016.1,863.5 1016.3,862.7 1016.6,861.9 1017.1,860.6 1017.6,859.5 1018.1,858.7 1018.6,858.0 1018.4,857.2 1018.4,856.3 1018.4,855.4 1018.6,854.3 1018.8,852.9 1018.9,852.1 1019.1,851.3 1019.4,850.4 1019.6,849.5 1019.9,848.5 1020.3,847.5 1020.6,846.5 1021.1,845.5 1021.5,844.5 1022.0,843.5 1022.5,842.6 1023.0,841.6 1023.6,840.7 1024.2,839.7 1024.8,838.9 1025.4,838.0 1026.0,837.3 1026.7,836.6 1027.1,835.5 1027.2,834.3 1027.3,833.2 1027.5,832.2 1027.8,831.2 1028.0,830.2 1028.3,829.3 1028.6,828.3 1029.0,827.4 1029.3,826.5 1029.7,825.7 1030.1,824.8 1030.6,823.9 1031.1,823.1 1031.6,822.1 1032.2,821.2 1032.8,820.3 1033.4,819.4 1034.1,818.6 1034.8,817.8 1035.5,817.0 1036.3,816.3 1037.2,815.6 1038.3,815.0 1038.4,813.7 1038.8,812.6 1039.3,811.7 1039.8,810.7 1040.3,809.8 1040.9,808.9 1041.6,808.0 1042.3,807.1 1043.0,806.2 1043.7,805.4 1044.5,804.6 1045.3,803.8 1046.0,803.1 1046.8,802.4 1047.6,801.7 1048.3,801.1 1049.3,800.4 1050.2,799.8 1051.2,799.1 1052.1,798.6 1053.1,798.1 1054.2,797.8 1054.6,796.8 1055.1,795.9 1055.7,795.1 1056.3,794.3 1057.0,793.6 1057.9,792.8 1058.8,792.1 1059.8,791.5 1060.7,791.0 1061.7,790.6 1062.7,790.2 1063.6,789.8 1064.5,789.5 1065.4,789.1 1066.4,788.7 1067.3,788.2 1068.2,787.8 1069.2,787.5 1070.3,787.1 1071.6,786.9 1072.7,786.0 1073.3,785.4 1074.0,784.7 1074.7,784.1 1075.5,783.5 1076.3,782.8 1077.2,782.2 1078.1,781.6 1079.0,781.0 1080.0,780.4 1080.9,779.9 1081.9,779.3 1082.8,778.9 1083.8,778.4 1084.7,778.0 1085.8,777.6 1086.8,777.2 1087.9,776.8 1089.0,776.5 1090.2,776.2 1091.3,775.9 1092.4,775.7 1093.6,775.5 1094.8,775.5 1095.5,774.7 1096.3,774.0 1097.0,773.4 1097.7,772.9 1098.9,772.0 1099.9,771.3 1100.8,770.6 1101.6,770.0 1102.4,769.4 1103.2,768.8 1103.9,768.1 1104.5,767.4 1105.1,766.7 1105.7,766.0 1106.3,765.2 1106.9,764.4 1107.5,763.6 1108.3,762.8 1109.0,762.0 1109.9,761.3 1110.7,760.7 1111.4,760.1 1112.3,759.6 1113.1,759.0 1114.0,758.5 1114.9,758.1 1115.9,757.6 1117.0,757.2 1118.0,756.9 1119.2,756.8 1120.0,756.4 1120.8,755.7 1121.6,755.1 1122.5,754.6 1123.4,754.0 1124.3,753.5 1125.3,753.1 1126.3,752.7 1127.3,752.2 1128.3,751.9 1129.3,751.5 1130.3,751.2 1131.3,750.9 1132.2,750.6 1133.2,750.3 1134.1,750.0 1135.1,749.8 1136.0,749.6 1136.9,749.4 1137.9,749.2 1138.9,749.1 1139.9,748.9 1140.9,748.8 1142.0,748.7 1143.1,748.7 1144.3,748.7 1145.2,748.8 1146.2,749.0 1147.0,748.5 1147.8,748.0 1148.6,747.5 1149.5,747.1 1150.4,746.7 1151.3,746.3 1152.2,745.9 1153.2,745.6 1154.2,745.3 1155.2,745.0 1156.3,744.8 1157.4,744.6 1158.6,744.4 1159.7,744.3Z" fill="#ababab"/>
<g fill="none" stroke-linecap="round" stroke-linejoin="round">
<path d="M1177.7,755.0L1172.7,763.5Q1167.7,772.0 1171.8,778.5Q1175.9,785.0 1180.0,777.1Q1184.2,769.1 1193.4,769.3Q1202.6,769.5 1210.6,769.4Q1218.6,769.2 1222.9,778.1L1227.1,786.9" stroke="#787878" stroke-width="19.0"/><path d="M1177.7,755.0L1172.7,763.5Q1167.7,772.0 1171.8,778.5Q1175.9,785.0 1180.0,777.1Q1184.2,769.1 1193.4,769.3Q1202.6,769.5 1210.6,769.4Q1218.6,769.2 1222.9,778.1L1227.1,786.9" stroke="#ababab" stroke-width="13.6"/>
<path d="M1177.7,755.0L1168.4,755.6Q1159.0,756.2 1150.6,755.7Q1142.2,755.3 1146.0,762.6Q1149.8,769.9 1154.7,778.5Q1159.5,787.0 1154.2,794.8Q1149.0,802.5 1153.8,808.7Q1158.6,814.8 1162.5,808.0Q1166.5,801.2 1175.1,801.1Q1183.7,801.0 1189.6,792.7Q1195.5,784.4 1203.8,785.3Q1212.1,786.2 1216.6,793.6Q1221.2,800.9 1215.7,808.1Q1210.3,815.3 1207.2,807.4L1204.1,799.6" stroke="#787878" stroke-width="19.0"/><path d="M1177.7,755.0L1168.4,755.6Q1159.0,756.2 1150.6,755.7Q1142.2,755.3 1146.0,762.6Q1149.8,769.9 1154.7,778.5Q1159.5,787.0 1154.2,794.8Q1149.0,802.5 1153.8,808.7Q1158.6,814.8 1162.5,808.0Q1166.5,801.2 1175.1,801.1Q1183.7,801.0 1189.6,792.7Q1195.5,784.4 1203.8,785.3Q1212.1,786.2 1216.6,793.6Q1221.2,800.9 1215.7,808.1Q1210.3,815.3 1207.2,807.4L1204.1,799.6" stroke="#ababab" stroke-width="13.6"/>
<path d="M1177.7,755.0L1194.2,755.2" stroke="#787878" stroke-width="19.0"/><path d="M1177.7,755.0L1194.2,755.2" stroke="#ababab" stroke-width="13.6"/>
<path d="M1087.1,784.0L1081.7,802.5" stroke="#787878" stroke-width="19.0"/><path d="M1087.1,784.0L1081.7,802.5" stroke="#ababab" stroke-width="13.6"/>
<path d="M1105.5,784.7L1110.8,793.6Q1116.2,802.6 1119.9,808.9Q1123.7,815.1 1114.5,816.4Q1105.2,817.6 1096.4,816.2Q1087.6,814.9 1092.0,822.7Q1096.5,830.4 1089.0,830.9Q1081.4,831.3 1084.2,838.1Q1087.1,845.0 1083.5,854.0Q1079.9,862.9 1075.0,869.3L1070.2,875.7" stroke="#787878" stroke-width="19.0"/><path d="M1105.5,784.7L1110.8,793.6Q1116.2,802.6 1119.9,808.9Q1123.7,815.1 1114.5,816.4Q1105.2,817.6 1096.4,816.2Q1087.6,814.9 1092.0,822.7Q1096.5,830.4 1089.0,830.9Q1081.4,831.3 1084.2,838.1Q1087.1,845.0 1083.5,854.0Q1079.9,862.9 1075.0,869.3L1070.2,875.7" stroke="#ababab" stroke-width="13.6"/>
<path d="M1105.5,784.7L1114.8,785.2Q1124.1,785.8 1118.8,778.8Q1113.5,771.7 1122.2,771.7Q1130.9,771.8 1136.5,779.0Q1142.2,786.2 1137.2,793.2Q1132.3,800.1 1137.5,809.0Q1142.7,817.9 1146.4,824.9Q1150.0,832.0 1140.9,830.8Q1131.8,829.6 1128.2,838.8Q1124.6,848.0 1116.2,846.9L1107.8,845.7" stroke="#787878" stroke-width="19.0"/><path d="M1105.5,784.7L1114.8,785.2Q1124.1,785.8 1118.8,778.8Q1113.5,771.7 1122.2,771.7Q1130.9,771.8 1136.5,779.0Q1142.2,786.2 1137.2,793.2Q1132.3,800.1 1137.5,809.0Q1142.7,817.9 1146.4,824.9Q1150.0,832.0 1140.9,830.8Q1131.8,829.6 1128.2,838.8Q1124.6,848.0 1116.2,846.9L1107.8,845.7" stroke="#ababab" stroke-width="13.6"/>
<path d="M1105.5,784.7L1100.7,792.7Q1095.8,800.8 1088.7,801.6L1081.7,802.5" stroke="#787878" stroke-width="19.0"/><path d="M1105.5,784.7L1100.7,792.7Q1095.8,800.8 1088.7,801.6L1081.7,802.5" stroke="#ababab" stroke-width="13.6"/>
<path d="M1227.1,786.9L1233.0,794.3Q1238.9,801.6 1233.9,809.6Q1229.0,817.5 1224.2,824.3Q1219.4,831.1 1210.5,830.4Q1201.5,829.7 1197.3,837.7Q1193.1,845.8 1184.2,846.6L1175.4,847.4" stroke="#787878" stroke-width="19.0"/><path d="M1227.1,786.9L1233.0,794.3Q1238.9,801.6 1233.9,809.6Q1229.0,817.5 1224.2,824.3Q1219.4,831.1 1210.5,830.4Q1201.5,829.7 1197.3,837.7Q1193.1,845.8 1184.2,846.6L1175.4,847.4" stroke="#ababab" stroke-width="13.6"/>
<path d="M1227.1,786.9L1237.4,786.5Q1247.7,786.1 1256.1,786.5Q1264.6,786.8 1268.5,793.0Q1272.5,799.2 1276.6,807.4Q1280.8,815.5 1272.1,815.9Q1263.4,816.2 1268.0,823.3Q1272.5,830.3 1277.7,839.2Q1282.9,848.2 1272.8,847.3Q1262.8,846.5 1258.4,853.9Q1254.0,861.3 1262.6,861.0Q1271.2,860.7 1266.8,868.4Q1262.4,876.1 1272.2,877.3Q1282.1,878.5 1289.6,877.9L1297.1,877.2" stroke="#787878" stroke-width="19.0"/><path d="M1227.1,786.9L1237.4,786.5Q1247.7,786.1 1256.1,786.5Q1264.6,786.8 1268.5,793.0Q1272.5,799.2 1276.6,807.4Q1280.8,815.5 1272.1,815.9Q1263.4,816.2 1268.0,823.3Q1272.5,830.3 1277.7,839.2Q1282.9,848.2 1272.8,847.3Q1262.8,846.5 1258.4,853.9Q1254.0,861.3 1262.6,861.0Q1271.2,860.7 1266.8,868.4Q1262.4,876.1 1272.2,877.3Q1282.1,878.5 1289.6,877.9L1297.1,877.2" stroke="#ababab" stroke-width="13.6"/>
<path d="M1081.7,802.5L1072.8,801.1Q1063.9,799.8 1059.1,807.6Q1054.3,815.4 1049.3,823.3Q1044.3,831.2 1048.9,839.5Q1053.4,847.7 1049.8,855.0Q1046.1,862.4 1036.8,861.6L1027.5,860.8" stroke="#787878" stroke-width="19.0"/><path d="M1081.7,802.5L1072.8,801.1Q1063.9,799.8 1059.1,807.6Q1054.3,815.4 1049.3,823.3Q1044.3,831.2 1048.9,839.5Q1053.4,847.7 1049.8,855.0Q1046.1,862.4 1036.8,861.6L1027.5,860.8" stroke="#ababab" stroke-width="13.6"/>
<path d="M1254.0,802.3L1247.1,815.8" stroke="#787878" stroke-width="19.0"/><path d="M1254.0,802.3L1247.1,815.8" stroke="#ababab" stroke-width="13.6"/>
<path d="M1071.5,815.7L1067.8,823.8Q1064.2,831.9 1068.2,838.4Q1072.2,844.9 1068.2,852.6Q1064.3,860.4 1059.6,869.5Q1054.8,878.7 1044.8,877.8Q1034.8,877.0 1026.8,877.8Q1018.8,878.6 1023.2,869.7L1027.5,860.8" stroke="#787878" stroke-width="19.0"/><path d="M1071.5,815.7L1067.8,823.8Q1064.2,831.9 1068.2,838.4Q1072.2,844.9 1068.2,852.6Q1064.3,860.4 1059.6,869.5Q1054.8,878.7 1044.8,877.8Q1034.8,877.0 1026.8,877.8Q1018.8,878.6 1023.2,869.7L1027.5,860.8" stroke="#ababab" stroke-width="13.6"/>
<path d="M1247.1,815.8L1251.6,824.0Q1256.1,832.2 1252.0,838.5Q1247.8,844.9 1242.8,853.5L1237.8,862.2" stroke="#787878" stroke-width="19.0"/><path d="M1247.1,815.8L1251.6,824.0Q1256.1,832.2 1252.0,838.5Q1247.8,844.9 1242.8,853.5L1237.8,862.2" stroke="#ababab" stroke-width="13.6"/>
<path d="M1247.1,815.8L1242.7,823.0Q1238.2,830.3 1234.2,838.7Q1230.2,847.1 1219.9,847.3Q1209.5,847.5 1205.5,855.1L1201.6,862.8" stroke="#787878" stroke-width="19.0"/><path d="M1247.1,815.8L1242.7,823.0Q1238.2,830.3 1234.2,838.7Q1230.2,847.1 1219.9,847.3Q1209.5,847.5 1205.5,855.1L1201.6,862.8" stroke="#ababab" stroke-width="13.6"/>
<path d="M1116.7,832.1L1107.8,845.7" stroke="#787878" stroke-width="19.0"/><path d="M1116.7,832.1L1107.8,845.7" stroke="#ababab" stroke-width="13.6"/>
<path d="M1291.7,830.7L1295.0,838.2Q1298.3,845.7 1293.7,853.9Q1289.1,862.2 1298.6,861.4Q1308.0,860.7 1302.6,869.0L1297.1,877.2" stroke="#787878" stroke-width="19.0"/><path d="M1291.7,830.7L1295.0,838.2Q1298.3,845.7 1293.7,853.9Q1289.1,862.2 1298.6,861.4Q1308.0,860.7 1302.6,869.0L1297.1,877.2" stroke="#ababab" stroke-width="13.6"/>
<path d="M1037.7,844.9L1027.5,860.8" stroke="#787878" stroke-width="19.0"/><path d="M1037.7,844.9L1027.5,860.8" stroke="#ababab" stroke-width="13.6"/>
<path d="M1107.8,845.7L1103.2,854.5Q1098.7,863.3 1106.0,862.2Q1113.3,861.1 1122.2,860.9Q1131.1,860.7 1136.9,869.1Q1142.7,877.5 1151.3,876.6L1159.9,875.8" stroke="#787878" stroke-width="19.0"/><path d="M1107.8,845.7L1103.2,854.5Q1098.7,863.3 1106.0,862.2Q1113.3,861.1 1122.2,860.9Q1131.1,860.7 1136.9,869.1Q1142.7,877.5 1151.3,876.6L1159.9,875.8" stroke="#ababab" stroke-width="13.6"/>
<path d="M1140.7,845.8L1160.4,847.0" stroke="#787878" stroke-width="19.0"/><path d="M1140.7,845.8L1160.4,847.0" stroke="#ababab" stroke-width="13.6"/>
<path d="M1160.4,847.0L1156.1,854.5Q1151.7,862.1 1155.8,869.0L1159.9,875.8" stroke="#787878" stroke-width="19.0"/><path d="M1160.4,847.0L1156.1,854.5Q1151.7,862.1 1155.8,869.0L1159.9,875.8" stroke="#ababab" stroke-width="13.6"/>
<path d="M1160.4,847.0L1163.8,838.7Q1167.2,830.5 1171.2,822.6Q1175.1,814.7 1184.2,814.7Q1193.2,814.7 1189.4,823.8Q1185.6,832.9 1180.5,840.1L1175.4,847.4" stroke="#787878" stroke-width="19.0"/><path d="M1160.4,847.0L1163.8,838.7Q1167.2,830.5 1171.2,822.6Q1175.1,814.7 1184.2,814.7Q1193.2,814.7 1189.4,823.8Q1185.6,832.9 1180.5,840.1L1175.4,847.4" stroke="#ababab" stroke-width="13.6"/>
<path d="M1175.4,847.4L1169.0,861.3" stroke="#787878" stroke-width="19.0"/><path d="M1175.4,847.4L1169.0,861.3" stroke="#ababab" stroke-width="13.6"/>
<path d="M1221.6,860.4L1217.0,868.1Q1212.4,875.9 1202.9,877.1Q1193.4,878.3 1189.9,869.9Q1186.3,861.6 1181.8,868.8Q1177.3,876.0 1181.5,884.8Q1185.6,893.7 1176.0,893.7Q1166.3,893.8 1172.1,900.0Q1177.8,906.2 1167.4,906.9Q1157.0,907.7 1148.3,908.1Q1139.7,908.5 1135.8,916.2Q1132.0,923.8 1141.6,924.0Q1151.2,924.1 1145.7,930.9Q1140.3,937.8 1131.8,938.5Q1123.3,939.3 1119.4,946.1Q1115.4,952.8 1106.3,952.9Q1097.2,953.0 1092.5,945.0Q1087.7,937.1 1093.0,930.3Q1098.2,923.6 1105.8,923.3L1113.4,923.0" stroke="#787878" stroke-width="19.0"/><path d="M1221.6,860.4L1217.0,868.1Q1212.4,875.9 1202.9,877.1Q1193.4,878.3 1189.9,869.9Q1186.3,861.6 1181.8,868.8Q1177.3,876.0 1181.5,884.8Q1185.6,893.7 1176.0,893.7Q1166.3,893.8 1172.1,900.0Q1177.8,906.2 1167.4,906.9Q1157.0,907.7 1148.3,908.1Q1139.7,908.5 1135.8,916.2Q1132.0,923.8 1141.6,924.0Q1151.2,924.1 1145.7,930.9Q1140.3,937.8 1131.8,938.5Q1123.3,939.3 1119.4,946.1Q1115.4,952.8 1106.3,952.9Q1097.2,953.0 1092.5,945.0Q1087.7,937.1 1093.0,930.3Q1098.2,923.6 1105.8,923.3L1113.4,923.0" stroke="#ababab" stroke-width="13.6"/>
<path d="M1237.8,862.2L1242.1,869.4Q1246.3,876.6 1251.3,884.5Q1256.3,892.4 1264.6,893.0Q1272.8,893.6 1280.7,893.8Q1288.6,894.0 1292.8,885.6L1297.1,877.2" stroke="#787878" stroke-width="19.0"/><path d="M1237.8,862.2L1242.1,869.4Q1246.3,876.6 1251.3,884.5Q1256.3,892.4 1264.6,893.0Q1272.8,893.6 1280.7,893.8Q1288.6,894.0 1292.8,885.6L1297.1,877.2" stroke="#ababab" stroke-width="13.6"/>
<path d="M1237.8,862.2L1232.8,869.4Q1227.7,876.7 1223.2,884.5Q1218.6,892.4 1228.3,892.1Q1238.0,891.7 1233.9,899.0L1229.9,906.3" stroke="#787878" stroke-width="19.0"/><path d="M1237.8,862.2L1232.8,869.4Q1227.7,876.7 1223.2,884.5Q1218.6,892.4 1228.3,892.1Q1238.0,891.7 1233.9,899.0L1229.9,906.3" stroke="#ababab" stroke-width="13.6"/>
<path d="M1070.2,875.7L1067.0,883.6Q1063.9,891.4 1054.9,891.2Q1045.9,891.0 1035.9,891.4Q1025.9,891.7 1031.2,899.3Q1036.5,906.9 1045.4,907.1Q1054.3,907.3 1049.4,914.3Q1044.4,921.4 1052.6,921.2L1060.8,921.0" stroke="#787878" stroke-width="19.0"/><path d="M1070.2,875.7L1067.0,883.6Q1063.9,891.4 1054.9,891.2Q1045.9,891.0 1035.9,891.4Q1025.9,891.7 1031.2,899.3Q1036.5,906.9 1045.4,907.1Q1054.3,907.3 1049.4,914.3Q1044.4,921.4 1052.6,921.2L1060.8,921.0" stroke="#ababab" stroke-width="13.6"/>
<path d="M1070.2,875.7L1081.1,891.0" stroke="#787878" stroke-width="19.0"/><path d="M1070.2,875.7L1081.1,891.0" stroke="#ababab" stroke-width="13.6"/>
<path d="M1125.3,876.6L1132.5,891.6" stroke="#787878" stroke-width="19.0"/><path d="M1125.3,876.6L1132.5,891.6" stroke="#ababab" stroke-width="13.6"/>
<path d="M1159.9,875.8L1154.1,883.5Q1148.3,891.1 1140.4,891.4L1132.5,891.6" stroke="#787878" stroke-width="19.0"/><path d="M1159.9,875.8L1154.1,883.5Q1148.3,891.1 1140.4,891.4L1132.5,891.6" stroke="#ababab" stroke-width="13.6"/>
<path d="M1132.5,891.6L1123.4,906.5" stroke="#787878" stroke-width="19.0"/><path d="M1132.5,891.6L1123.4,906.5" stroke="#ababab" stroke-width="13.6"/>
<path d="M1201.3,893.3L1192.7,907.9" stroke="#787878" stroke-width="19.0"/><path d="M1201.3,893.3L1192.7,907.9" stroke="#ababab" stroke-width="13.6"/>
<path d="M1192.7,907.9L1196.9,914.8Q1201.1,921.6 1206.2,914.8Q1211.3,908.0 1220.6,907.1L1229.9,906.3" stroke="#787878" stroke-width="19.0"/><path d="M1192.7,907.9L1196.9,914.8Q1201.1,921.6 1206.2,914.8Q1211.3,908.0 1220.6,907.1L1229.9,906.3" stroke="#ababab" stroke-width="13.6"/>
<path d="M1192.7,907.9L1189.6,916.1Q1186.5,924.3 1176.2,924.2Q1165.9,924.0 1162.4,931.4L1158.9,938.8" stroke="#787878" stroke-width="19.0"/><path d="M1192.7,907.9L1189.6,916.1Q1186.5,924.3 1176.2,924.2Q1165.9,924.0 1162.4,931.4L1158.9,938.8" stroke="#ababab" stroke-width="13.6"/>
<path d="M1229.9,906.3L1245.6,906.8" stroke="#787878" stroke-width="19.0"/><path d="M1229.9,906.3L1245.6,906.8" stroke="#ababab" stroke-width="13.6"/>
<path d="M1060.8,921.0L1066.8,914.7Q1072.8,908.3 1080.3,908.6Q1087.8,908.9 1092.7,901.3Q1097.5,893.8 1093.9,886.2Q1090.3,878.7 1098.3,877.1Q1106.2,875.4 1110.1,883.4Q1113.9,891.4 1109.3,899.5Q1104.6,907.6 1109.0,915.3L1113.4,923.0" stroke="#787878" stroke-width="19.0"/><path d="M1060.8,921.0L1066.8,914.7Q1072.8,908.3 1080.3,908.6Q1087.8,908.9 1092.7,901.3Q1097.5,893.8 1093.9,886.2Q1090.3,878.7 1098.3,877.1Q1106.2,875.4 1110.1,883.4Q1113.9,891.4 1109.3,899.5Q1104.6,907.6 1109.0,915.3L1113.4,923.0" stroke="#ababab" stroke-width="13.6"/>
<path d="M1060.8,921.0L1070.7,922.1Q1080.7,923.2 1076.7,929.7L1072.6,936.2" stroke="#787878" stroke-width="19.0"/><path d="M1060.8,921.0L1070.7,922.1Q1080.7,923.2 1076.7,929.7L1072.6,936.2" stroke="#ababab" stroke-width="13.6"/>
<path d="M1113.4,923.0L1107.7,937.9" stroke="#787878" stroke-width="19.0"/><path d="M1113.4,923.0L1107.7,937.9" stroke="#ababab" stroke-width="13.6"/>
</g>
<path d="M1177.7,755.0L1172.7,763.5Q1167.7,772.0 1171.8,778.5Q1175.9,785.0 1180.0,777.1L1184.2,769.1M1177.7,755.0L1168.4,755.6Q1159.0,756.2 1150.6,755.7Q1142.2,755.3 1146.0,762.6Q1149.8,769.9 1154.7,778.5Q1159.5,787.0 1154.2,794.8Q1149.0,802.5 1153.8,808.7Q1158.6,814.8 1162.5,808.0Q1166.5,801.2 1175.1,801.1Q1183.7,801.0 1189.6,792.7Q1195.5,784.4 1203.8,785.3Q1212.1,786.2 1216.6,793.6Q1221.2,800.9 1215.7,808.1L1210.3,815.3M1177.7,755.0L1194.2,755.2M1087.1,784.0L1081.7,802.5M1116.2,802.6L1119.9,808.9Q1123.7,815.1 1114.5,816.4Q1105.2,817.6 1096.4,816.2Q1087.6,814.9 1092.0,822.7Q1096.5,830.4 1089.0,830.9Q1081.4,831.3 1084.2,838.1L1087.1,845.0M1113.5,771.7L1122.2,771.7Q1130.9,771.8 1136.5,779.0Q1142.2,786.2 1137.2,793.2Q1132.3,800.1 1137.5,809.0Q1142.7,817.9 1146.4,824.9Q1150.0,832.0 1140.9,830.8Q1131.8,829.6 1128.2,838.8Q1124.6,848.0 1116.2,846.9L1107.8,845.7M1105.5,784.7L1095.8,800.8M1238.9,801.6L1233.9,809.6Q1229.0,817.5 1224.2,824.3Q1219.4,831.1 1210.5,830.4Q1201.5,829.7 1197.3,837.7Q1193.1,845.8 1184.2,846.6L1175.4,847.4M1264.6,786.8L1268.5,793.0Q1272.5,799.2 1276.6,807.4Q1280.8,815.5 1272.1,815.9Q1263.4,816.2 1268.0,823.3Q1272.5,830.3 1277.7,839.2Q1282.9,848.2 1272.8,847.3Q1262.8,846.5 1258.4,853.9L1254.0,861.3M1063.9,799.8L1059.1,807.6Q1054.3,815.4 1049.3,823.3Q1044.3,831.2 1048.9,839.5Q1053.4,847.7 1049.8,855.0Q1046.1,862.4 1036.8,861.6L1027.5,860.8M1254.0,802.3L1247.1,815.8M1064.2,831.9L1068.2,838.4Q1072.2,844.9 1068.2,852.6Q1064.3,860.4 1059.6,869.5Q1054.8,878.7 1044.8,877.8Q1034.8,877.0 1026.8,877.8L1018.8,878.6M1247.1,815.8L1251.6,824.0Q1256.1,832.2 1252.0,838.5L1247.8,844.9M1247.1,815.8L1242.7,823.0Q1238.2,830.3 1234.2,838.7Q1230.2,847.1 1219.9,847.3L1209.5,847.5M1116.7,832.1L1107.8,845.7M1291.7,830.7L1295.0,838.2Q1298.3,845.7 1293.7,853.9Q1289.1,862.2 1298.6,861.4L1308.0,860.7M1037.7,844.9L1027.5,860.8M1107.8,845.7L1103.2,854.5Q1098.7,863.3 1106.0,862.2Q1113.3,861.1 1122.2,860.9Q1131.1,860.7 1136.9,869.1L1142.7,877.5M1140.7,845.8L1160.4,847.0M1160.4,847.0L1151.7,862.1M1167.2,830.5L1171.2,822.6Q1175.1,814.7 1184.2,814.7Q1193.2,814.7 1189.4,823.8L1185.6,832.9M1175.4,847.4L1169.0,861.3M1221.6,860.4L1217.0,868.1Q1212.4,875.9 1202.9,877.1Q1193.4,878.3 1189.9,869.9Q1186.3,861.6 1181.8,868.8Q1177.3,876.0 1181.5,884.8Q1185.6,893.7 1176.0,893.7Q1166.3,893.8 1172.1,900.0Q1177.8,906.2 1167.4,906.9Q1157.0,907.7 1148.3,908.1Q1139.7,908.5 1135.8,916.2Q1132.0,923.8 1141.6,924.0L1151.2,924.1M1237.8,862.2L1242.1,869.4Q1246.3,876.6 1251.3,884.5Q1256.3,892.4 1264.6,893.0Q1272.8,893.6 1280.7,893.8L1288.6,894.0M1227.7,876.7L1223.2,884.5Q1218.6,892.4 1228.3,892.1Q1238.0,891.7 1233.9,899.0L1229.9,906.3M1070.2,875.7L1067.0,883.6Q1063.9,891.4 1054.9,891.2Q1045.9,891.0 1035.9,891.4Q1025.9,891.7 1031.2,899.3Q1036.5,906.9 1045.4,907.1L1054.3,907.3M1070.2,875.7L1081.1,891.0M1125.3,876.6L1132.5,891.6M1159.9,875.8L1148.3,891.1M1132.5,891.6L1123.4,906.5M1201.3,893.3L1192.7,907.9M1192.7,907.9L1189.6,916.1Q1186.5,924.3 1176.2,924.2L1165.9,924.0M1229.9,906.3L1245.6,906.8M1060.8,921.0L1066.8,914.7Q1072.8,908.3 1080.3,908.6Q1087.8,908.9 1092.7,901.3Q1097.5,893.8 1093.9,886.2L1090.3,878.7M1060.8,921.0L1080.7,923.2M1113.4,923.0L1107.7,937.9" transform="translate(-1.5,-1.9)" fill="none" stroke="#d3d3d3" stroke-width="8.2" stroke-linecap="round" stroke-linejoin="round"/>
<path d="M1209.6,963.0C1211.8,961.5 1223.1,962.5 1230.0,962.0C1236.9,961.5 1246.9,959.0 1251.1,960.0C1255.3,961.0 1254.0,965.6 1255.0,968.0C1256.0,970.4 1257.4,972.4 1257.4,974.4C1257.4,976.4 1256.6,978.6 1255.0,980.0C1253.4,981.4 1251.1,982.5 1248.0,983.0C1244.9,983.5 1239.9,983.8 1236.2,983.0C1232.5,982.2 1229.3,980.0 1226.0,978.0C1222.7,976.0 1219.3,973.8 1216.6,971.3C1213.9,968.8 1207.4,964.5 1209.6,963.0Z" fill="#9a9a9a" stroke="#777" stroke-width="3"/>
<path d="M1216.0,966.0L1232.0,981.0M1223.0,966.5L1238.0,981.0M1230.0,967.0L1244.0,981.0M1237.0,967.5L1250.0,981.0" stroke="#808080" stroke-width="1.6" fill="none"/>
<path d="M1168.0,948.0C1169.7,944.6 1178.0,938.8 1185.0,935.0C1192.0,931.2 1200.8,927.8 1210.0,925.0C1219.2,922.2 1230.8,920.2 1240.0,918.0C1249.2,915.8 1257.5,914.0 1265.0,912.0C1272.5,910.0 1280.0,907.7 1285.0,906.0C1290.0,904.3 1293.4,900.5 1295.0,902.0C1296.6,903.5 1294.8,911.2 1294.5,915.0C1294.2,918.8 1294.2,921.8 1293.5,925.0C1292.8,928.2 1292.3,931.2 1290.3,934.5C1288.3,937.8 1284.7,942.0 1281.7,944.6C1278.7,947.2 1276.2,947.9 1272.3,950.1C1268.4,952.3 1261.7,956.0 1258.2,958.0C1254.7,960.0 1255.8,961.0 1251.1,962.0C1246.4,963.0 1236.9,963.4 1230.0,964.0C1223.1,964.6 1215.1,965.3 1209.6,965.5C1204.1,965.7 1201.0,965.9 1197.0,965.4C1193.0,964.9 1189.0,964.3 1185.3,962.7C1181.6,961.1 1178.0,958.1 1175.1,955.6C1172.2,953.1 1166.3,951.4 1168.0,948.0Z" fill="#9c9c9c" stroke="#777" stroke-width="3.5"/>
<path d="M1178,948.0C1210,930.0 1255,922.0 1292.0,914.0M1181,953.0C1210,936.5 1255,928.5 1290.5,921.7M1184,958.0C1210,943.0 1255,935.0 1289.0,929.4M1187,963.0C1210,949.5 1255,941.5 1287.5,937.1M1190,968.0C1210,956.0 1255,948.0 1286.0,944.8M1193,973.0C1210,962.5 1255,954.5 1284.5,952.5" stroke="#7a7a7a" stroke-width="2" fill="none"/>
</g>
<path d="M1161.0,746.4 1161.9,745.7 1162.8,745.4 1163.7,745.1 1164.7,744.9 1165.7,744.7 1166.8,744.6 1167.8,744.5 1168.9,744.4 1170.0,744.4 1171.1,744.5 1172.2,744.6 1173.3,744.7 1174.4,744.9 1175.4,745.1 1176.5,745.3 1177.6,745.6 1178.6,746.0 1179.6,746.3 1180.6,746.8 1181.5,747.4 1182.5,747.2 1183.5,747.0 1184.5,746.9 1185.3,746.8 1186.6,746.7 1187.8,746.7 1189.0,746.8 1190.1,746.9 1191.1,747.0 1192.1,747.2 1193.1,747.5 1194.0,747.7 1194.9,748.0 1195.9,748.4 1196.8,748.8 1197.7,749.2 1198.6,749.7 1199.6,750.2 1200.5,750.8 1201.5,751.6 1202.2,752.4 1203.1,752.4 1204.2,752.4 1205.2,752.5 1206.2,752.7 1207.2,752.9 1208.2,753.1 1209.2,753.4 1210.2,753.7 1211.2,754.0 1212.2,754.3 1213.2,754.7 1214.2,755.1 1215.2,755.5 1216.1,755.9 1217.1,756.3 1218.0,756.7 1218.9,757.2 1219.8,757.6 1220.6,758.1 1221.4,758.6 1222.4,759.1 1223.3,759.7 1224.2,760.3 1225.1,760.9 1225.9,761.6 1226.8,762.3 1227.6,763.1 1228.4,763.7 1229.5,763.8 1230.5,764.0 1231.5,764.3 1232.5,764.5 1233.4,764.8 1234.3,765.2 1235.2,765.5 1236.1,765.8 1237.0,766.2 1237.8,766.5 1238.9,767.0 1239.9,767.4 1240.8,767.9 1241.7,768.3 1242.6,768.8 1243.5,769.2 1244.3,769.7 1245.2,770.2 1246.0,770.7 1246.9,771.3 1247.7,771.9 1248.6,772.5 1249.5,773.2 1250.4,774.0 1251.1,774.7 1251.8,775.5 1252.6,776.1 1253.8,776.2 1254.8,776.5 1255.9,776.8 1257.0,777.1 1258.1,777.5 1259.1,777.9 1260.1,778.4 1261.2,778.8 1262.2,779.4 1263.1,779.9 1264.0,780.5 1264.9,781.0 1265.8,781.6 1266.6,782.3 1267.3,782.9 1268.1,783.7 1268.9,784.5 1269.6,785.4 1270.2,786.2 1270.7,787.0 1271.2,787.9 1271.6,788.8 1272.0,789.7 1272.3,790.7 1272.6,791.7 1273.6,792.2 1274.4,792.8 1275.3,793.4 1276.1,794.1 1276.9,794.8 1277.6,795.4 1278.3,796.0 1279.1,796.7 1279.8,797.3 1280.5,798.0 1281.2,798.7 1281.9,799.4 1282.6,800.2 1283.3,800.9 1283.9,801.7 1284.6,802.6 1285.2,803.4 1285.8,804.3 1286.4,805.2 1286.9,806.1 1287.5,807.0 1288.0,808.0 1288.4,809.0 1288.7,810.0 1288.9,811.1 1290.0,811.5 1290.9,812.2 1291.7,812.8 1292.5,813.5 1293.3,814.3 1294.0,815.0 1294.7,815.8 1295.4,816.6 1296.1,817.5 1296.7,818.3 1297.4,819.2 1298.0,820.1 1298.5,821.0 1299.0,822.0 1299.5,823.0 1300.0,824.0 1300.4,824.9 1300.7,825.8 1301.0,826.8 1301.3,827.7 1301.6,828.7 1301.8,829.7 1301.9,830.7 1301.8,831.9 1302.6,832.6 1303.3,833.4 1303.9,834.2 1304.5,835.1 1305.0,836.0 1305.5,836.9 1306.0,837.8 1306.5,838.7 1306.9,839.7 1307.4,840.6 1307.7,841.6 1308.1,842.6 1308.4,843.6 1308.8,844.5 1309.0,845.5 1309.3,846.5 1309.5,847.6 1309.8,848.6 1310.0,849.7 1310.1,850.8 1310.3,851.9 1310.4,853.0 1310.5,854.1 1310.5,855.2 1310.4,856.3 1310.2,857.4 1310.7,858.4 1311.2,859.4 1311.7,860.3 1312.1,861.3 1312.4,862.3 1312.7,863.2 1313.0,864.1 1313.2,865.0 1313.4,865.9 1313.6,867.1 1313.7,868.3 1313.8,869.4 1313.8,870.5 1313.8,871.6 1313.8,872.7 1313.7,873.8 1313.6,874.8 1313.4,875.8 1313.2,876.8 1312.9,877.7 1312.6,878.6 1312.3,879.5 1311.9,880.4 1311.5,881.2 1311.0,882.0 1310.4,882.9 1309.6,883.7 1308.9,884.5 1308.7,885.6 1308.3,886.6 1307.8,887.6 1307.3,888.6 1306.7,889.5 1306.1,890.4 1305.5,891.2 1304.9,892.0 1304.3,892.8 1303.7,893.6 1303.0,894.5 1302.1,895.4 1301.3,896.1 1300.4,896.8 1299.6,897.4 1298.8,898.0 1298.1,898.6 1297.4,899.2 1296.8,899.8 1296.2,900.5 1295.7,901.3 1295.4,902.0 1295.1,902.8 1294.9,903.7 1294.7,904.7 1294.5,905.7 1294.3,906.8 1294.0,907.9 1293.8,909.0 1293.6,910.1 1294.0,911.1 1294.4,912.2 1294.6,913.2 1294.8,914.1 1294.9,915.0 1295.0,916.2 1295.1,917.3 1295.1,918.4 1295.2,919.4 1295.1,920.4 1295.1,921.3 1295.0,922.3 1294.9,923.3 1294.8,924.2 1294.6,925.2 1294.3,926.2 1294.1,927.1 1293.8,928.1 1293.5,929.0 1293.2,930.0 1292.8,930.9 1292.3,931.9 1291.8,932.8 1291.1,933.7 1290.4,934.6 1289.7,935.2 1289.0,935.9 1288.2,936.5 1287.5,937.3 1287.1,938.3 1286.7,939.3 1286.1,940.3 1285.6,941.2 1284.9,942.1 1284.3,943.0 1283.6,943.8 1283.0,944.6 1282.3,945.3 1281.4,946.1 1280.5,946.8 1279.7,947.4 1278.8,948.0 1277.9,948.5 1276.9,948.9 1276.0,949.4 1275.0,949.8 1273.9,950.3 1272.7,950.8 1271.9,951.2 1271.0,951.6 1270.1,951.9 1269.1,952.3 1268.1,952.7 1267.0,953.0 1265.9,953.3 1264.8,953.5 1263.8,954.1 1263.0,954.9 1262.2,955.7 1261.4,956.3 1260.6,957.0 1259.9,957.6 1259.2,958.1 1258.5,958.6 1257.3,959.4 1256.0,960.1 1254.9,960.6 1253.9,961.1 1253.1,961.5 1252.6,961.8 1252.3,962.1 1252.2,962.3 1252.2,962.5 1252.4,963.0 1252.9,963.8 1253.6,964.6 1254.4,965.6 1255.1,966.6 1255.6,967.6 1256.1,968.8 1256.5,970.0 1256.8,971.1 1257.0,972.3 1257.1,973.4 1256.9,974.4 1256.3,975.3 1256.6,976.3 1256.6,977.3 1256.3,978.4 1255.9,979.4 1255.3,980.3 1254.6,981.0 1253.8,981.7 1252.9,982.3 1251.9,982.9 1250.8,983.3 1249.5,983.7 1248.2,984.1 1247.2,984.2 1246.2,984.3 1245.2,984.4 1244.1,984.5 1242.9,984.5 1241.7,984.5 1240.5,984.4 1239.4,984.2 1238.2,984.0 1237.1,983.7 1236.1,983.4 1235.1,983.0 1234.2,982.4 1233.4,981.9 1232.5,981.2 1231.8,980.3 1230.8,980.2 1229.7,980.0 1228.7,979.6 1227.7,979.3 1226.7,978.9 1225.7,978.5 1224.7,978.0 1223.8,977.5 1222.8,977.0 1221.9,976.5 1220.9,975.9 1220.0,975.2 1219.1,974.6 1218.3,974.0 1217.5,973.3 1216.7,972.7 1216.0,972.1 1215.1,971.3 1214.4,970.4 1213.7,969.6 1213.2,968.8 1212.6,968.0 1212.0,967.2 1211.4,966.5 1210.6,965.9 1209.7,965.2 1208.8,964.7 1207.9,964.3 1206.8,964.8 1205.8,965.2 1204.7,965.5 1203.6,965.8 1202.5,966.1 1201.4,966.3 1200.3,966.5 1199.1,966.6 1198.0,966.6 1196.9,966.5 1195.9,966.3 1194.9,966.1 1193.8,965.9 1192.9,965.6 1191.9,965.2 1190.9,964.8 1190.0,964.4 1189.1,963.8 1188.3,963.1 1187.4,962.8 1186.3,962.8 1185.3,962.6 1184.3,962.4 1183.3,962.0 1182.3,961.6 1181.2,961.1 1180.2,960.6 1179.3,960.0 1178.3,959.4 1177.5,958.8 1176.6,958.1 1175.8,957.5 1175.1,957.0 1174.4,956.4 1173.4,955.5 1172.6,954.6 1172.0,953.8 1171.5,953.1 1171.0,952.5 1170.4,952.0 1169.5,951.5 1168.7,951.3 1167.9,951.0 1166.9,950.8 1165.9,950.6 1164.8,950.4 1163.7,950.0 1162.6,950.7 1161.4,951.2 1160.3,951.6 1159.1,952.0 1157.9,952.4 1157.0,952.6 1156.1,952.9 1155.2,953.2 1154.2,953.4 1153.2,953.7 1152.2,953.9 1151.2,954.1 1150.2,954.4 1149.1,954.6 1148.1,954.8 1147.1,955.0 1146.1,955.2 1145.1,955.3 1144.1,955.5 1143.2,955.6 1142.3,955.7 1141.1,955.9 1140.0,956.0 1139.0,956.1 1137.9,956.1 1136.9,956.2 1135.9,956.2 1134.9,956.2 1133.9,956.1 1133.1,956.9 1132.3,957.4 1131.4,958.0 1130.5,958.5 1129.6,959.0 1128.7,959.6 1127.8,960.1 1126.8,960.6 1125.9,961.2 1124.9,961.7 1124.0,962.1 1123.0,962.6 1121.9,963.0 1120.9,963.3 1119.9,963.6 1118.8,963.8 1117.7,963.9 1116.6,964.0 1115.6,964.0 1114.5,964.0 1113.5,963.9 1112.5,963.7 1111.4,963.4 1110.4,962.9 1109.3,963.3 1108.1,963.5 1106.9,963.7 1106.0,963.7 1105.0,963.7 1104.1,963.7 1103.0,963.6 1102.0,963.5 1100.9,963.3 1099.9,963.2 1098.8,963.0 1097.7,962.7 1096.7,962.5 1095.6,962.2 1094.6,961.9 1093.6,961.6 1092.7,961.3 1091.8,960.9 1090.9,960.6 1089.8,960.2 1088.7,959.8 1087.7,959.3 1086.7,958.9 1085.7,958.4 1084.7,957.9 1083.8,957.4 1083.0,956.8 1082.2,956.1 1081.6,955.3 1080.6,955.1 1079.6,954.9 1078.6,954.4 1077.6,953.8 1076.7,953.0 1075.9,952.2 1075.2,951.3 1074.5,950.4 1073.8,949.4 1073.2,948.5 1072.7,947.7 1072.2,947.0 1071.7,946.3 1070.9,945.3 1070.2,944.5 1069.6,943.8 1068.9,943.1 1068.2,942.4 1067.3,941.5 1066.4,940.4 1065.7,939.7 1064.7,939.6 1063.7,939.5 1062.7,939.3 1061.6,939.0 1060.5,938.8 1059.4,938.5 1058.3,938.2 1057.2,937.9 1056.2,937.5 1055.1,937.2 1054.1,936.8 1053.1,936.3 1052.1,935.9 1051.2,935.4 1050.2,934.9 1049.2,934.4 1048.3,933.9 1047.3,933.4 1046.4,932.8 1045.5,932.2 1044.7,931.6 1043.9,930.9 1043.1,930.3 1042.3,929.5 1041.6,928.7 1040.9,927.8 1040.2,926.9 1039.7,925.9 1039.3,924.8 1038.2,924.3 1037.3,923.7 1036.4,923.0 1035.6,922.3 1034.9,921.6 1034.2,920.8 1033.6,919.8 1033.0,918.8 1032.6,917.7 1032.3,916.7 1032.1,915.7 1031.8,914.8 1031.6,914.0 1031.2,913.2 1030.8,912.6 1030.3,912.0 1029.6,911.5 1028.8,911.0 1027.8,910.4 1026.8,909.9 1025.8,909.2 1024.9,908.5 1024.1,907.6 1023.6,906.5 1022.8,906.1 1021.9,905.7 1021.1,905.1 1020.3,904.5 1019.5,903.8 1018.8,903.1 1018.1,902.3 1017.4,901.4 1016.8,900.5 1016.3,899.5 1015.8,898.4 1015.4,897.3 1015.1,896.4 1014.9,895.4 1014.7,894.4 1014.6,893.4 1014.6,892.4 1014.6,891.3 1014.6,890.3 1014.7,889.2 1014.8,888.1 1014.9,887.0 1015.1,885.9 1015.3,884.8 1015.6,883.6 1015.9,882.5 1016.3,881.3 1016.3,880.4 1015.9,879.4 1015.7,878.3 1015.5,877.3 1015.3,876.2 1015.2,875.1 1015.1,874.0 1015.1,872.8 1015.0,871.7 1015.1,870.6 1015.1,869.5 1015.2,868.4 1015.4,867.4 1015.5,866.3 1015.7,865.4 1015.9,864.4 1016.1,863.5 1016.3,862.7 1016.6,861.9 1017.1,860.6 1017.6,859.5 1018.1,858.7 1018.6,858.0 1018.4,857.2 1018.4,856.3 1018.4,855.4 1018.6,854.3 1018.8,852.9 1018.9,852.1 1019.1,851.3 1019.4,850.4 1019.6,849.5 1019.9,848.5 1020.3,847.5 1020.6,846.5 1021.1,845.5 1021.5,844.5 1022.0,843.5 1022.5,842.6 1023.0,841.6 1023.6,840.7 1024.2,839.7 1024.8,838.9 1025.4,838.0 1026.0,837.3 1026.7,836.6 1027.1,835.5 1027.2,834.3 1027.3,833.2 1027.5,832.2 1027.8,831.2 1028.0,830.2 1028.3,829.3 1028.6,828.3 1029.0,827.4 1029.3,826.5 1029.7,825.7 1030.1,824.8 1030.6,823.9 1031.1,823.1 1031.6,822.1 1032.2,821.2 1032.8,820.3 1033.4,819.4 1034.1,818.6 1034.8,817.8 1035.5,817.0 1036.3,816.3 1037.2,815.6 1038.3,815.0 1038.4,813.7 1038.8,812.6 1039.3,811.7 1039.8,810.7 1040.3,809.8 1040.9,808.9 1041.6,808.0 1042.3,807.1 1043.0,806.2 1043.7,805.4 1044.5,804.6 1045.3,803.8 1046.0,803.1 1046.8,802.4 1047.6,801.7 1048.3,801.1 1049.3,800.4 1050.2,799.8 1051.2,799.1 1052.1,798.6 1053.1,798.1 1054.2,797.8 1054.6,796.8 1055.1,795.9 1055.7,795.1 1056.3,794.3 1057.0,793.6 1057.9,792.8 1058.8,792.1 1059.8,791.5 1060.7,791.0 1061.7,790.6 1062.7,790.2 1063.6,789.8 1064.5,789.5 1065.4,789.1 1066.4,788.7 1067.3,788.2 1068.2,787.8 1069.2,787.5 1070.3,787.1 1071.6,786.9 1072.7,786.0 1073.3,785.4 1074.0,784.7 1074.7,784.1 1075.5,783.5 1076.3,782.8 1077.2,782.2 1078.1,781.6 1079.0,781.0 1080.0,780.4 1080.9,779.9 1081.9,779.3 1082.8,778.9 1083.8,778.4 1084.7,778.0 1085.8,777.6 1086.8,777.2 1087.9,776.8 1089.0,776.5 1090.2,776.2 1091.3,775.9 1092.4,775.7 1093.6,775.5 1094.8,775.5 1095.5,774.7 1096.3,774.0 1097.0,773.4 1097.7,772.9 1098.9,772.0 1099.9,771.3 1100.8,770.6 1101.6,770.0 1102.4,769.4 1103.2,768.8 1103.9,768.1 1104.5,767.4 1105.1,766.7 1105.7,766.0 1106.3,765.2 1106.9,764.4 1107.5,763.6 1108.3,762.8 1109.0,762.0 1109.9,761.3 1110.7,760.7 1111.4,760.1 1112.3,759.6 1113.1,759.0 1114.0,758.5 1114.9,758.1 1115.9,757.6 1117.0,757.2 1118.0,756.9 1119.2,756.8 1120.0,756.4 1120.8,755.7 1121.6,755.1 1122.5,754.6 1123.4,754.0 1124.3,753.5 1125.3,753.1 1126.3,752.7 1127.3,752.2 1128.3,751.9 1129.3,751.5 1130.3,751.2 1131.3,750.9 1132.2,750.6 1133.2,750.3 1134.1,750.0 1135.1,749.8 1136.0,749.6 1136.9,749.4 1137.9,749.2 1138.9,749.1 1139.9,748.9 1140.9,748.8 1142.0,748.7 1143.1,748.7 1144.3,748.7 1145.2,748.8 1146.2,749.0 1147.0,748.5 1147.8,748.0 1148.6,747.5 1149.5,747.1 1150.4,746.7 1151.3,746.3 1152.2,745.9 1153.2,745.6 1154.2,745.3 1155.2,745.0 1156.3,744.8 1157.4,744.6 1158.6,744.4 1159.7,744.3Z" fill="none" stroke="#787878" stroke-width="4"/>
</g>
</svg></body></html>
